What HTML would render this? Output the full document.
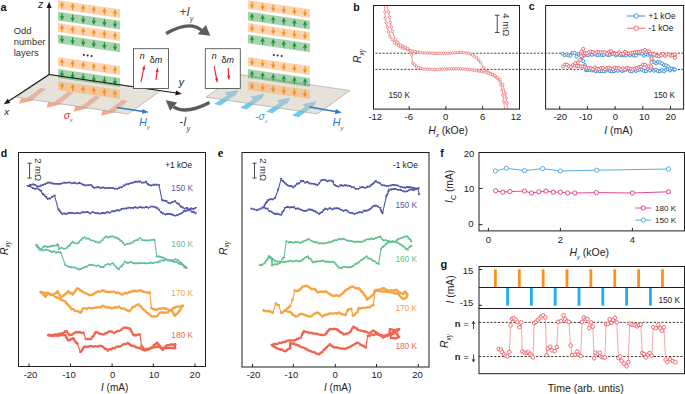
<!DOCTYPE html>
<html><head><meta charset="utf-8"><style>
html,body{margin:0;padding:0;background:#fff;}
svg{display:block;font-family:"Liberation Sans", sans-serif;}
</style></head><body>
<svg width="685" height="394" viewBox="0 0 685 394">
<rect width="685" height="394" fill="#fff"/>
<polygon points="40.4,87.9 46.1,89.1 32.6,99.8 26,98.8" fill="#f7a98f" stroke="none" stroke-width="0" />
<polygon points="20.9,98.2 34.4,100.2 19,103.8" fill="#f7a98f" stroke="none" stroke-width="0" />
<polygon points="67.7,91.85 73.4,93.05 59.9,103.75 53.3,102.75" fill="#f7a98f" stroke="none" stroke-width="0" />
<polygon points="48.2,102.15 61.7,104.15 46.3,107.75" fill="#f7a98f" stroke="none" stroke-width="0" />
<polygon points="95,95.8 100.7,97 87.2,107.7 80.6,106.7" fill="#f7a98f" stroke="none" stroke-width="0" />
<polygon points="75.5,106.1 89,108.1 73.6,111.7" fill="#f7a98f" stroke="none" stroke-width="0" />
<polygon points="122.3,99.75 128,100.95 114.5,111.65 107.9,110.65" fill="#f7a98f" stroke="none" stroke-width="0" />
<polygon points="102.8,110.05 116.3,112.05 100.9,115.65" fill="#f7a98f" stroke="none" stroke-width="0" />
<polygon points="214.1,104 227.3,95.3 224.6,92.8 238.4,89.7 236,95 233,96.6 220.6,105.6" fill="#6ccaf4" stroke="none" stroke-width="0" />
<polygon points="240.05,107.85 253.25,99.15 250.55,96.65 264.35,93.55 261.95,98.85 258.95,100.45 246.55,109.45" fill="#6ccaf4" stroke="none" stroke-width="0" />
<polygon points="266,111.7 279.2,103 276.5,100.5 290.3,97.4 287.9,102.7 284.9,104.3 272.5,113.3" fill="#6ccaf4" stroke="none" stroke-width="0" />
<polygon points="291.95,115.55 305.15,106.85 302.45,104.35 316.25,101.25 313.85,106.55 310.85,108.15 298.45,117.15" fill="#6ccaf4" stroke="none" stroke-width="0" />
<polygon points="49.1,74.5 160.6,90.7 128.2,114.1 16.8,97.3" fill="#cdc5b3" stroke="#9e9a94" stroke-width="0.6" fill-opacity="0.5"/>
<polygon points="238.4,74.3 349.9,90.5 317.5,113.9 206.1,97.1" fill="#cdc5b3" stroke="#9e9a94" stroke-width="0.6" fill-opacity="0.5"/>
<polygon points="58,0.2 120,9.19 120,17.99 58,9" fill="#fbaa5f" stroke="none" stroke-width="0" fill-opacity="0.5"/>
<path d="M62,1.48 L64.3,6.18 L62.6,5.48 L62.6,8.58 L61.4,8.58 L61.4,5.48 L59.7,6.18 Z" fill="#f39019"/>
<path d="M72.6,3.02 L74.9,7.72 L73.2,7.02 L73.2,10.12 L72,10.12 L72,7.02 L70.3,7.72 Z" fill="#f39019"/>
<path d="M83.2,4.55 L85.5,9.25 L83.8,8.55 L83.8,11.65 L82.6,11.65 L82.6,8.55 L80.9,9.25 Z" fill="#f39019"/>
<path d="M93.8,6.09 L96.1,10.79 L94.4,10.09 L94.4,13.19 L93.2,13.19 L93.2,10.09 L91.5,10.79 Z" fill="#f39019"/>
<path d="M104.4,7.63 L106.7,12.33 L105,11.63 L105,14.73 L103.8,14.73 L103.8,11.63 L102.1,12.33 Z" fill="#f39019"/>
<path d="M115,9.16 L117.3,13.86 L115.6,13.16 L115.6,16.26 L114.4,16.26 L114.4,13.16 L112.7,13.86 Z" fill="#f39019"/>
<polygon points="58,11.7 120,20.69 120,29.49 58,20.5" fill="#3c9b46" stroke="none" stroke-width="0" fill-opacity="0.45"/>
<path d="M62,20.38 L64.3,15.68 L62.6,16.38 L62.6,13.28 L61.4,13.28 L61.4,16.38 L59.7,15.68 Z" fill="#18953a"/>
<path d="M72.6,21.92 L74.9,17.22 L73.2,17.92 L73.2,14.82 L72,14.82 L72,17.92 L70.3,17.22 Z" fill="#18953a"/>
<path d="M83.2,23.45 L85.5,18.75 L83.8,19.45 L83.8,16.35 L82.6,16.35 L82.6,19.45 L80.9,18.75 Z" fill="#18953a"/>
<path d="M93.8,24.99 L96.1,20.29 L94.4,20.99 L94.4,17.89 L93.2,17.89 L93.2,20.99 L91.5,20.29 Z" fill="#18953a"/>
<path d="M104.4,26.53 L106.7,21.83 L105,22.53 L105,19.43 L103.8,19.43 L103.8,22.53 L102.1,21.83 Z" fill="#18953a"/>
<path d="M115,28.06 L117.3,23.36 L115.6,24.06 L115.6,20.96 L114.4,20.96 L114.4,24.06 L112.7,23.36 Z" fill="#18953a"/>
<polygon points="58,23.1 120,32.09 120,40.89 58,31.9" fill="#fbaa5f" stroke="none" stroke-width="0" fill-opacity="0.5"/>
<path d="M62,24.38 L64.3,29.08 L62.6,28.38 L62.6,31.48 L61.4,31.48 L61.4,28.38 L59.7,29.08 Z" fill="#f39019"/>
<path d="M72.6,25.92 L74.9,30.62 L73.2,29.92 L73.2,33.02 L72,33.02 L72,29.92 L70.3,30.62 Z" fill="#f39019"/>
<path d="M83.2,27.45 L85.5,32.15 L83.8,31.45 L83.8,34.55 L82.6,34.55 L82.6,31.45 L80.9,32.15 Z" fill="#f39019"/>
<path d="M93.8,28.99 L96.1,33.69 L94.4,32.99 L94.4,36.09 L93.2,36.09 L93.2,32.99 L91.5,33.69 Z" fill="#f39019"/>
<path d="M104.4,30.53 L106.7,35.23 L105,34.53 L105,37.63 L103.8,37.63 L103.8,34.53 L102.1,35.23 Z" fill="#f39019"/>
<path d="M115,32.06 L117.3,36.77 L115.6,36.06 L115.6,39.16 L114.4,39.16 L114.4,36.06 L112.7,36.77 Z" fill="#f39019"/>
<polygon points="58,34.5 120,43.49 120,52.29 58,43.3" fill="#3c9b46" stroke="none" stroke-width="0" fill-opacity="0.45"/>
<path d="M62,43.18 L64.3,38.48 L62.6,39.18 L62.6,36.08 L61.4,36.08 L61.4,39.18 L59.7,38.48 Z" fill="#18953a"/>
<path d="M72.6,44.72 L74.9,40.02 L73.2,40.72 L73.2,37.62 L72,37.62 L72,40.72 L70.3,40.02 Z" fill="#18953a"/>
<path d="M83.2,46.25 L85.5,41.55 L83.8,42.25 L83.8,39.15 L82.6,39.15 L82.6,42.25 L80.9,41.55 Z" fill="#18953a"/>
<path d="M93.8,47.79 L96.1,43.09 L94.4,43.79 L94.4,40.69 L93.2,40.69 L93.2,43.79 L91.5,43.09 Z" fill="#18953a"/>
<path d="M104.4,49.33 L106.7,44.63 L105,45.33 L105,42.23 L103.8,42.23 L103.8,45.33 L102.1,44.63 Z" fill="#18953a"/>
<path d="M115,50.87 L117.3,46.16 L115.6,46.87 L115.6,43.77 L114.4,43.77 L114.4,46.87 L112.7,46.16 Z" fill="#18953a"/>
<polygon points="58,57.1 120,66.09 120,74.89 58,65.9" fill="#fbaa5f" stroke="none" stroke-width="0" fill-opacity="0.5"/>
<path d="M62,58.38 L64.3,63.08 L62.6,62.38 L62.6,65.48 L61.4,65.48 L61.4,62.38 L59.7,63.08 Z" fill="#f39019"/>
<path d="M72.6,59.92 L74.9,64.62 L73.2,63.92 L73.2,67.02 L72,67.02 L72,63.92 L70.3,64.62 Z" fill="#f39019"/>
<path d="M83.2,61.45 L85.5,66.15 L83.8,65.45 L83.8,68.55 L82.6,68.55 L82.6,65.45 L80.9,66.15 Z" fill="#f39019"/>
<path d="M93.8,62.99 L96.1,67.69 L94.4,66.99 L94.4,70.09 L93.2,70.09 L93.2,66.99 L91.5,67.69 Z" fill="#f39019"/>
<path d="M104.4,64.53 L106.7,69.23 L105,68.53 L105,71.63 L103.8,71.63 L103.8,68.53 L102.1,69.23 Z" fill="#f39019"/>
<path d="M115,66.06 L117.3,70.77 L115.6,70.06 L115.6,73.17 L114.4,73.17 L114.4,70.06 L112.7,70.77 Z" fill="#f39019"/>
<polygon points="58,69.1 120,78.09 120,86.89 58,77.9" fill="#3c9b46" stroke="none" stroke-width="0" fill-opacity="0.45"/>
<path d="M62,77.78 L64.3,73.08 L62.6,73.78 L62.6,70.68 L61.4,70.68 L61.4,73.78 L59.7,73.08 Z" fill="#18953a"/>
<path d="M72.6,79.32 L74.9,74.62 L73.2,75.32 L73.2,72.22 L72,72.22 L72,75.32 L70.3,74.62 Z" fill="#18953a"/>
<path d="M83.2,80.85 L85.5,76.15 L83.8,76.85 L83.8,73.75 L82.6,73.75 L82.6,76.85 L80.9,76.15 Z" fill="#18953a"/>
<path d="M93.8,82.39 L96.1,77.69 L94.4,78.39 L94.4,75.29 L93.2,75.29 L93.2,78.39 L91.5,77.69 Z" fill="#18953a"/>
<path d="M104.4,83.93 L106.7,79.23 L105,79.93 L105,76.83 L103.8,76.83 L103.8,79.93 L102.1,79.23 Z" fill="#18953a"/>
<path d="M115,85.47 L117.3,80.77 L115.6,81.47 L115.6,78.36 L114.4,78.36 L114.4,81.47 L112.7,80.77 Z" fill="#18953a"/>
<polygon points="58,81.1 120,90.09 120,98.89 58,89.9" fill="#fbaa5f" stroke="none" stroke-width="0" fill-opacity="0.5"/>
<path d="M62,82.38 L64.3,87.08 L62.6,86.38 L62.6,89.48 L61.4,89.48 L61.4,86.38 L59.7,87.08 Z" fill="#f39019"/>
<path d="M72.6,83.92 L74.9,88.62 L73.2,87.92 L73.2,91.02 L72,91.02 L72,87.92 L70.3,88.62 Z" fill="#f39019"/>
<path d="M83.2,85.45 L85.5,90.15 L83.8,89.45 L83.8,92.55 L82.6,92.55 L82.6,89.45 L80.9,90.15 Z" fill="#f39019"/>
<path d="M93.8,86.99 L96.1,91.69 L94.4,90.99 L94.4,94.09 L93.2,94.09 L93.2,90.99 L91.5,91.69 Z" fill="#f39019"/>
<path d="M104.4,88.53 L106.7,93.23 L105,92.53 L105,95.63 L103.8,95.63 L103.8,92.53 L102.1,93.23 Z" fill="#f39019"/>
<path d="M115,90.06 L117.3,94.77 L115.6,94.06 L115.6,97.17 L114.4,97.17 L114.4,94.06 L112.7,94.77 Z" fill="#f39019"/>
<circle cx="83.8" cy="55" r="1.0" fill="#222"/>
<circle cx="87.6" cy="55.5" r="1.0" fill="#222"/>
<circle cx="91.6" cy="56.1" r="1.0" fill="#222"/>
<polygon points="248,0.2 310,9.19 310,17.99 248,9" fill="#fbaa5f" stroke="none" stroke-width="0" fill-opacity="0.5"/>
<path d="M252,8.88 L254.3,4.18 L252.6,4.88 L252.6,1.78 L251.4,1.78 L251.4,4.88 L249.7,4.18 Z" fill="#f39019"/>
<path d="M262.6,10.42 L264.9,5.72 L263.2,6.42 L263.2,3.32 L262,3.32 L262,6.42 L260.3,5.72 Z" fill="#f39019"/>
<path d="M273.2,11.95 L275.5,7.25 L273.8,7.95 L273.8,4.85 L272.6,4.85 L272.6,7.95 L270.9,7.25 Z" fill="#f39019"/>
<path d="M283.8,13.49 L286.1,8.79 L284.4,9.49 L284.4,6.39 L283.2,6.39 L283.2,9.49 L281.5,8.79 Z" fill="#f39019"/>
<path d="M294.4,15.03 L296.7,10.33 L295,11.03 L295,7.93 L293.8,7.93 L293.8,11.03 L292.1,10.33 Z" fill="#f39019"/>
<path d="M305,16.56 L307.3,11.86 L305.6,12.56 L305.6,9.46 L304.4,9.46 L304.4,12.56 L302.7,11.86 Z" fill="#f39019"/>
<polygon points="248,11.7 310,20.69 310,29.49 248,20.5" fill="#3c9b46" stroke="none" stroke-width="0" fill-opacity="0.45"/>
<path d="M252,12.98 L254.3,17.68 L252.6,16.98 L252.6,20.08 L251.4,20.08 L251.4,16.98 L249.7,17.68 Z" fill="#18953a"/>
<path d="M262.6,14.52 L264.9,19.22 L263.2,18.52 L263.2,21.62 L262,21.62 L262,18.52 L260.3,19.22 Z" fill="#18953a"/>
<path d="M273.2,16.05 L275.5,20.75 L273.8,20.05 L273.8,23.15 L272.6,23.15 L272.6,20.05 L270.9,20.75 Z" fill="#18953a"/>
<path d="M283.8,17.59 L286.1,22.29 L284.4,21.59 L284.4,24.69 L283.2,24.69 L283.2,21.59 L281.5,22.29 Z" fill="#18953a"/>
<path d="M294.4,19.13 L296.7,23.83 L295,23.13 L295,26.23 L293.8,26.23 L293.8,23.13 L292.1,23.83 Z" fill="#18953a"/>
<path d="M305,20.66 L307.3,25.36 L305.6,24.66 L305.6,27.76 L304.4,27.76 L304.4,24.66 L302.7,25.36 Z" fill="#18953a"/>
<polygon points="248,23.1 310,32.09 310,40.89 248,31.9" fill="#fbaa5f" stroke="none" stroke-width="0" fill-opacity="0.5"/>
<path d="M252,31.78 L254.3,27.08 L252.6,27.78 L252.6,24.68 L251.4,24.68 L251.4,27.78 L249.7,27.08 Z" fill="#f39019"/>
<path d="M262.6,33.32 L264.9,28.62 L263.2,29.32 L263.2,26.22 L262,26.22 L262,29.32 L260.3,28.62 Z" fill="#f39019"/>
<path d="M273.2,34.85 L275.5,30.15 L273.8,30.85 L273.8,27.75 L272.6,27.75 L272.6,30.85 L270.9,30.15 Z" fill="#f39019"/>
<path d="M283.8,36.39 L286.1,31.69 L284.4,32.39 L284.4,29.29 L283.2,29.29 L283.2,32.39 L281.5,31.69 Z" fill="#f39019"/>
<path d="M294.4,37.93 L296.7,33.23 L295,33.93 L295,30.83 L293.8,30.83 L293.8,33.93 L292.1,33.23 Z" fill="#f39019"/>
<path d="M305,39.47 L307.3,34.77 L305.6,35.47 L305.6,32.37 L304.4,32.37 L304.4,35.47 L302.7,34.77 Z" fill="#f39019"/>
<polygon points="248,34.5 310,43.49 310,52.29 248,43.3" fill="#3c9b46" stroke="none" stroke-width="0" fill-opacity="0.45"/>
<path d="M252,35.78 L254.3,40.48 L252.6,39.78 L252.6,42.88 L251.4,42.88 L251.4,39.78 L249.7,40.48 Z" fill="#18953a"/>
<path d="M262.6,37.32 L264.9,42.02 L263.2,41.32 L263.2,44.42 L262,44.42 L262,41.32 L260.3,42.02 Z" fill="#18953a"/>
<path d="M273.2,38.85 L275.5,43.55 L273.8,42.85 L273.8,45.95 L272.6,45.95 L272.6,42.85 L270.9,43.55 Z" fill="#18953a"/>
<path d="M283.8,40.39 L286.1,45.09 L284.4,44.39 L284.4,47.49 L283.2,47.49 L283.2,44.39 L281.5,45.09 Z" fill="#18953a"/>
<path d="M294.4,41.93 L296.7,46.63 L295,45.93 L295,49.03 L293.8,49.03 L293.8,45.93 L292.1,46.63 Z" fill="#18953a"/>
<path d="M305,43.46 L307.3,48.16 L305.6,47.46 L305.6,50.56 L304.4,50.56 L304.4,47.46 L302.7,48.16 Z" fill="#18953a"/>
<polygon points="248,57.1 310,66.09 310,74.89 248,65.9" fill="#fbaa5f" stroke="none" stroke-width="0" fill-opacity="0.5"/>
<path d="M252,65.78 L254.3,61.08 L252.6,61.78 L252.6,58.68 L251.4,58.68 L251.4,61.78 L249.7,61.08 Z" fill="#f39019"/>
<path d="M262.6,67.32 L264.9,62.62 L263.2,63.32 L263.2,60.22 L262,60.22 L262,63.32 L260.3,62.62 Z" fill="#f39019"/>
<path d="M273.2,68.85 L275.5,64.15 L273.8,64.85 L273.8,61.75 L272.6,61.75 L272.6,64.85 L270.9,64.15 Z" fill="#f39019"/>
<path d="M283.8,70.39 L286.1,65.69 L284.4,66.39 L284.4,63.29 L283.2,63.29 L283.2,66.39 L281.5,65.69 Z" fill="#f39019"/>
<path d="M294.4,71.93 L296.7,67.23 L295,67.93 L295,64.83 L293.8,64.83 L293.8,67.93 L292.1,67.23 Z" fill="#f39019"/>
<path d="M305,73.47 L307.3,68.77 L305.6,69.47 L305.6,66.36 L304.4,66.36 L304.4,69.47 L302.7,68.77 Z" fill="#f39019"/>
<polygon points="248,69.1 310,78.09 310,86.89 248,77.9" fill="#3c9b46" stroke="none" stroke-width="0" fill-opacity="0.45"/>
<path d="M252,70.38 L254.3,75.08 L252.6,74.38 L252.6,77.48 L251.4,77.48 L251.4,74.38 L249.7,75.08 Z" fill="#18953a"/>
<path d="M262.6,71.92 L264.9,76.62 L263.2,75.92 L263.2,79.02 L262,79.02 L262,75.92 L260.3,76.62 Z" fill="#18953a"/>
<path d="M273.2,73.45 L275.5,78.15 L273.8,77.45 L273.8,80.55 L272.6,80.55 L272.6,77.45 L270.9,78.15 Z" fill="#18953a"/>
<path d="M283.8,74.99 L286.1,79.69 L284.4,78.99 L284.4,82.09 L283.2,82.09 L283.2,78.99 L281.5,79.69 Z" fill="#18953a"/>
<path d="M294.4,76.53 L296.7,81.23 L295,80.53 L295,83.63 L293.8,83.63 L293.8,80.53 L292.1,81.23 Z" fill="#18953a"/>
<path d="M305,78.06 L307.3,82.77 L305.6,82.06 L305.6,85.17 L304.4,85.17 L304.4,82.06 L302.7,82.77 Z" fill="#18953a"/>
<polygon points="248,81.1 310,90.09 310,98.89 248,89.9" fill="#fbaa5f" stroke="none" stroke-width="0" fill-opacity="0.5"/>
<path d="M252,89.78 L254.3,85.08 L252.6,85.78 L252.6,82.68 L251.4,82.68 L251.4,85.78 L249.7,85.08 Z" fill="#f39019"/>
<path d="M262.6,91.32 L264.9,86.62 L263.2,87.32 L263.2,84.22 L262,84.22 L262,87.32 L260.3,86.62 Z" fill="#f39019"/>
<path d="M273.2,92.85 L275.5,88.15 L273.8,88.85 L273.8,85.75 L272.6,85.75 L272.6,88.85 L270.9,88.15 Z" fill="#f39019"/>
<path d="M283.8,94.39 L286.1,89.69 L284.4,90.39 L284.4,87.29 L283.2,87.29 L283.2,90.39 L281.5,89.69 Z" fill="#f39019"/>
<path d="M294.4,95.93 L296.7,91.23 L295,91.93 L295,88.83 L293.8,88.83 L293.8,91.93 L292.1,91.23 Z" fill="#f39019"/>
<path d="M305,97.47 L307.3,92.77 L305.6,93.47 L305.6,90.36 L304.4,90.36 L304.4,93.47 L302.7,92.77 Z" fill="#f39019"/>
<circle cx="273.8" cy="55" r="1.0" fill="#222"/>
<circle cx="277.6" cy="55.5" r="1.0" fill="#222"/>
<circle cx="281.6" cy="56.1" r="1.0" fill="#222"/>
<line x1="49.1" y1="74.5" x2="49.1" y2="5.52" stroke="#1a1a1a" stroke-width="1.2" />
<polygon points="49.1,1.8 51.6,8 46.6,8" fill="#1a1a1a" stroke="none" stroke-width="0" />
<line x1="49.1" y1="74.5" x2="6.91" y2="102.26" stroke="#1a1a1a" stroke-width="1.2" />
<polygon points="3.8,104.3 7.61,98.8 10.35,102.98" fill="#1a1a1a" stroke="none" stroke-width="0" />
<line x1="49.1" y1="74.5" x2="178.12" y2="93.26" stroke="#1a1a1a" stroke-width="1.1" />
<polygon points="181.8,93.8 175.3,95.38 176.02,90.43" fill="#1a1a1a" stroke="none" stroke-width="0" />
<line x1="116.8" y1="107.6" x2="144.94" y2="111.73" stroke="#2a7ac6" stroke-width="1.5" />
<polygon points="148.8,112.3 142.01,113.83 142.73,108.88" fill="#2a7ac6" stroke="none" stroke-width="0" />
<line x1="309.5" y1="107" x2="337.96" y2="111.93" stroke="#2a7ac6" stroke-width="1.5" />
<polygon points="341.8,112.6 334.97,113.95 335.82,109.03" fill="#2a7ac6" stroke="none" stroke-width="0" />
<rect x="133.5" y="48.7" width="35" height="39.8" fill="#fff" stroke="#555" stroke-width="0.9"/>
<text x="142.3" y="58.7" font-size="8.8" text-anchor="middle" fill="#222" font-style="italic">n</text>
<text x="149.8" y="62.7" font-size="9" fill="#222">δ<tspan font-style="italic">m</tspan></text>
<line x1="141" y1="81.9" x2="143.95" y2="67.64" stroke="#e8192c" stroke-width="1.1" />
<polygon points="144.5,65 145.06,69.71 142.12,69.1" fill="#e8192c" stroke="none" stroke-width="0" />
<line x1="155.9" y1="80" x2="157.31" y2="70.27" stroke="#e8192c" stroke-width="1.1" />
<polygon points="157.7,67.6 158.54,72.27 155.57,71.84" fill="#e8192c" stroke="none" stroke-width="0" />
<rect x="205.3" y="48.7" width="35" height="39.8" fill="#fff" stroke="#555" stroke-width="0.9"/>
<text x="214.1" y="58.7" font-size="8.8" text-anchor="middle" fill="#222" font-style="italic">n</text>
<text x="221.6" y="62.7" font-size="9" fill="#222">δ<tspan font-style="italic">m</tspan></text>
<line x1="214.2" y1="66.3" x2="216.81" y2="80.35" stroke="#e8192c" stroke-width="1.1" />
<polygon points="217.3,83 215,78.85 217.95,78.3" fill="#e8192c" stroke="none" stroke-width="0" />
<line x1="228.1" y1="68" x2="228.8" y2="77.51" stroke="#e8192c" stroke-width="1.1" />
<polygon points="229,80.2 227.17,75.82 230.16,75.6" fill="#e8192c" stroke="none" stroke-width="0" />
<path d="M166.1,33.5 Q189.8,20 201.5,30.2" fill="none" stroke="#5c5c5c" stroke-width="3.3"/>
<polygon points="197.6,34.2 205.9,24.9 210.3,35.8" fill="#5c5c5c" stroke="none" stroke-width="0" />
<path d="M209.5,102.5 Q186.2,114.9 173.5,106.8" fill="none" stroke="#5c5c5c" stroke-width="3.3"/>
<polygon points="165.8,100.2 170,110.8 177.2,102.4" fill="#5c5c5c" stroke="none" stroke-width="0" />
<text x="0.6" y="10.6" font-size="11" font-weight="bold" fill="#111">a</text>
<text x="40.6" y="7.8" font-size="10.5" text-anchor="middle" fill="#222" font-style="italic">z</text>
<text x="6.6" y="115.4" font-size="9.8" text-anchor="middle" fill="#222" font-style="italic">x</text>
<text x="181.3" y="86.4" font-size="10.5" text-anchor="middle" fill="#222" font-style="italic">y</text>
<text x="13.7" y="33.6" font-size="9.4" text-anchor="start" fill="#333" >Odd</text>
<text x="13.7" y="45" font-size="9.4" text-anchor="start" fill="#333" >number</text>
<text x="13.7" y="56.4" font-size="9.4" text-anchor="start" fill="#333" >layers</text>
<text x="63.7" y="119.2" font-size="10.5" fill="#e8283c" font-style="italic">σ<tspan font-size="5.6" dy="3.2">x</tspan></text>
<text x="255.0" y="119.6" font-size="10.5" fill="#28a8e0" font-style="italic">-σ<tspan font-size="5.6" dy="3.2">x</tspan></text>
<text x="138.9" y="125.8" font-size="11" fill="#2a7ac6" font-style="italic">H<tspan font-size="6" dy="3.4">y</tspan></text>
<text x="332.6" y="126.2" font-size="11" fill="#2a7ac6" font-style="italic">H<tspan font-size="6" dy="3.4">y</tspan></text>
<text x="179.4" y="15.9" font-size="12" fill="#4a4a4a">+<tspan font-style="italic">I</tspan><tspan font-size="7.5" dy="4.6" font-style="italic">y</tspan></text>
<text x="179.2" y="126.3" font-size="12" fill="#4a4a4a">-<tspan font-style="italic">I</tspan><tspan font-size="7.5" dy="4.6" font-style="italic">y</tspan></text>
<line x1="375.4" y1="53.2" x2="683" y2="53.2" stroke="#333" stroke-width="0.9" stroke-dasharray="2.1,1.5"/>
<line x1="375.4" y1="69.4" x2="683" y2="69.4" stroke="#333" stroke-width="0.9" stroke-dasharray="2.1,1.5"/>
<text x="353.3" y="10.7" font-size="10.5" font-weight="bold" fill="#111">b</text>
<polyline points="384.6,5.3 385.2,18.3 387.3,27.4 389.9,36.5 394.4,42.6 402.5,48.1 412.6,51.2 422.8,52.8 435,53.4 450,53.2 460.3,52.2 466,52.8 470.5,54 476.5,57.4 480.6,62.5 483.7,67.6 486.7,71.6 492.8,74.7 497.9,78.7 500.9,84.8 502.9,95 504.6,109" fill="none" stroke="#ef5f61" stroke-width="0.7" stroke-linejoin="round" />
<circle cx="384.9" cy="11.8" r="1.25" fill="#fff" stroke="#ef5f61" stroke-width="0.65"/>
<circle cx="385.2" cy="18.3" r="1.25" fill="#fff" stroke="#ef5f61" stroke-width="0.65"/>
<circle cx="386.25" cy="22.85" r="1.25" fill="#fff" stroke="#ef5f61" stroke-width="0.65"/>
<circle cx="387.3" cy="27.4" r="1.25" fill="#fff" stroke="#ef5f61" stroke-width="0.65"/>
<circle cx="388.6" cy="31.95" r="1.25" fill="#fff" stroke="#ef5f61" stroke-width="0.65"/>
<circle cx="389.9" cy="36.5" r="1.25" fill="#fff" stroke="#ef5f61" stroke-width="0.65"/>
<circle cx="392.15" cy="39.55" r="1.25" fill="#fff" stroke="#ef5f61" stroke-width="0.65"/>
<circle cx="394.4" cy="42.6" r="1.25" fill="#fff" stroke="#ef5f61" stroke-width="0.65"/>
<circle cx="396.42" cy="43.98" r="1.25" fill="#fff" stroke="#ef5f61" stroke-width="0.65"/>
<circle cx="398.45" cy="45.35" r="1.25" fill="#fff" stroke="#ef5f61" stroke-width="0.65"/>
<circle cx="400.48" cy="46.73" r="1.25" fill="#fff" stroke="#ef5f61" stroke-width="0.65"/>
<circle cx="402.5" cy="48.1" r="1.25" fill="#fff" stroke="#ef5f61" stroke-width="0.65"/>
<circle cx="405.02" cy="48.88" r="1.25" fill="#fff" stroke="#ef5f61" stroke-width="0.65"/>
<circle cx="407.55" cy="49.65" r="1.25" fill="#fff" stroke="#ef5f61" stroke-width="0.65"/>
<circle cx="410.08" cy="50.43" r="1.25" fill="#fff" stroke="#ef5f61" stroke-width="0.65"/>
<circle cx="412.6" cy="51.2" r="1.25" fill="#fff" stroke="#ef5f61" stroke-width="0.65"/>
<circle cx="415.15" cy="51.6" r="1.25" fill="#fff" stroke="#ef5f61" stroke-width="0.65"/>
<circle cx="417.7" cy="52" r="1.25" fill="#fff" stroke="#ef5f61" stroke-width="0.65"/>
<circle cx="420.25" cy="52.4" r="1.25" fill="#fff" stroke="#ef5f61" stroke-width="0.65"/>
<circle cx="422.8" cy="52.8" r="1.25" fill="#fff" stroke="#ef5f61" stroke-width="0.65"/>
<circle cx="425.24" cy="52.92" r="1.25" fill="#fff" stroke="#ef5f61" stroke-width="0.65"/>
<circle cx="427.68" cy="53.04" r="1.25" fill="#fff" stroke="#ef5f61" stroke-width="0.65"/>
<circle cx="430.12" cy="53.16" r="1.25" fill="#fff" stroke="#ef5f61" stroke-width="0.65"/>
<circle cx="432.56" cy="53.28" r="1.25" fill="#fff" stroke="#ef5f61" stroke-width="0.65"/>
<circle cx="435" cy="53.4" r="1.25" fill="#fff" stroke="#ef5f61" stroke-width="0.65"/>
<circle cx="437.14" cy="53.37" r="1.25" fill="#fff" stroke="#ef5f61" stroke-width="0.65"/>
<circle cx="439.29" cy="53.34" r="1.25" fill="#fff" stroke="#ef5f61" stroke-width="0.65"/>
<circle cx="441.43" cy="53.31" r="1.25" fill="#fff" stroke="#ef5f61" stroke-width="0.65"/>
<circle cx="443.57" cy="53.29" r="1.25" fill="#fff" stroke="#ef5f61" stroke-width="0.65"/>
<circle cx="445.71" cy="53.26" r="1.25" fill="#fff" stroke="#ef5f61" stroke-width="0.65"/>
<circle cx="447.86" cy="53.23" r="1.25" fill="#fff" stroke="#ef5f61" stroke-width="0.65"/>
<circle cx="450" cy="53.2" r="1.25" fill="#fff" stroke="#ef5f61" stroke-width="0.65"/>
<circle cx="452.57" cy="52.95" r="1.25" fill="#fff" stroke="#ef5f61" stroke-width="0.65"/>
<circle cx="455.15" cy="52.7" r="1.25" fill="#fff" stroke="#ef5f61" stroke-width="0.65"/>
<circle cx="457.73" cy="52.45" r="1.25" fill="#fff" stroke="#ef5f61" stroke-width="0.65"/>
<circle cx="460.3" cy="52.2" r="1.25" fill="#fff" stroke="#ef5f61" stroke-width="0.65"/>
<circle cx="463.15" cy="52.5" r="1.25" fill="#fff" stroke="#ef5f61" stroke-width="0.65"/>
<circle cx="466" cy="52.8" r="1.25" fill="#fff" stroke="#ef5f61" stroke-width="0.65"/>
<circle cx="468.25" cy="53.4" r="1.25" fill="#fff" stroke="#ef5f61" stroke-width="0.65"/>
<circle cx="470.5" cy="54" r="1.25" fill="#fff" stroke="#ef5f61" stroke-width="0.65"/>
<circle cx="472.5" cy="55.13" r="1.25" fill="#fff" stroke="#ef5f61" stroke-width="0.65"/>
<circle cx="474.5" cy="56.27" r="1.25" fill="#fff" stroke="#ef5f61" stroke-width="0.65"/>
<circle cx="476.5" cy="57.4" r="1.25" fill="#fff" stroke="#ef5f61" stroke-width="0.65"/>
<circle cx="478.55" cy="59.95" r="1.25" fill="#fff" stroke="#ef5f61" stroke-width="0.65"/>
<circle cx="480.6" cy="62.5" r="1.25" fill="#fff" stroke="#ef5f61" stroke-width="0.65"/>
<circle cx="483.7" cy="67.6" r="1.25" fill="#fff" stroke="#ef5f61" stroke-width="0.65"/>
<circle cx="486.7" cy="71.6" r="1.25" fill="#fff" stroke="#ef5f61" stroke-width="0.65"/>
<circle cx="488.73" cy="72.63" r="1.25" fill="#fff" stroke="#ef5f61" stroke-width="0.65"/>
<circle cx="490.77" cy="73.67" r="1.25" fill="#fff" stroke="#ef5f61" stroke-width="0.65"/>
<circle cx="492.8" cy="74.7" r="1.25" fill="#fff" stroke="#ef5f61" stroke-width="0.65"/>
<circle cx="495.35" cy="76.7" r="1.25" fill="#fff" stroke="#ef5f61" stroke-width="0.65"/>
<circle cx="497.9" cy="78.7" r="1.25" fill="#fff" stroke="#ef5f61" stroke-width="0.65"/>
<circle cx="500.9" cy="84.8" r="1.25" fill="#fff" stroke="#ef5f61" stroke-width="0.65"/>
<circle cx="501.9" cy="89.9" r="1.25" fill="#fff" stroke="#ef5f61" stroke-width="0.65"/>
<circle cx="502.9" cy="95" r="1.25" fill="#fff" stroke="#ef5f61" stroke-width="0.65"/>
<circle cx="503.75" cy="102" r="1.25" fill="#fff" stroke="#ef5f61" stroke-width="0.65"/>
<polyline points="386.8,5.3 388.7,12.2 390.3,22.3 392.3,31.5 395.4,39.6 400.5,45.1 407.6,48.3 410.6,50.8 411.6,54.8 412.6,62.9 416.7,67 422.8,69 435,69.5 456.2,68.6 470,69.5 476.5,70.6 486.7,72.6 494.8,75.7 499.9,79.7 502.9,84.8 505.4,93 507,103.1 507.4,109" fill="none" stroke="#ef5f61" stroke-width="0.7" stroke-linejoin="round" />
<circle cx="388.7" cy="12.2" r="1.25" fill="#fff" stroke="#ef5f61" stroke-width="0.65"/>
<circle cx="389.5" cy="17.25" r="1.25" fill="#fff" stroke="#ef5f61" stroke-width="0.65"/>
<circle cx="390.3" cy="22.3" r="1.25" fill="#fff" stroke="#ef5f61" stroke-width="0.65"/>
<circle cx="391.3" cy="26.9" r="1.25" fill="#fff" stroke="#ef5f61" stroke-width="0.65"/>
<circle cx="392.3" cy="31.5" r="1.25" fill="#fff" stroke="#ef5f61" stroke-width="0.65"/>
<circle cx="395.4" cy="39.6" r="1.25" fill="#fff" stroke="#ef5f61" stroke-width="0.65"/>
<circle cx="397.95" cy="42.35" r="1.25" fill="#fff" stroke="#ef5f61" stroke-width="0.65"/>
<circle cx="400.5" cy="45.1" r="1.25" fill="#fff" stroke="#ef5f61" stroke-width="0.65"/>
<circle cx="402.87" cy="46.17" r="1.25" fill="#fff" stroke="#ef5f61" stroke-width="0.65"/>
<circle cx="405.23" cy="47.23" r="1.25" fill="#fff" stroke="#ef5f61" stroke-width="0.65"/>
<circle cx="407.6" cy="48.3" r="1.25" fill="#fff" stroke="#ef5f61" stroke-width="0.65"/>
<circle cx="410.6" cy="50.8" r="1.25" fill="#fff" stroke="#ef5f61" stroke-width="0.65"/>
<circle cx="411.6" cy="54.8" r="1.25" fill="#fff" stroke="#ef5f61" stroke-width="0.65"/>
<circle cx="412.6" cy="62.9" r="1.25" fill="#fff" stroke="#ef5f61" stroke-width="0.65"/>
<circle cx="414.65" cy="64.95" r="1.25" fill="#fff" stroke="#ef5f61" stroke-width="0.65"/>
<circle cx="416.7" cy="67" r="1.25" fill="#fff" stroke="#ef5f61" stroke-width="0.65"/>
<circle cx="418.73" cy="67.67" r="1.25" fill="#fff" stroke="#ef5f61" stroke-width="0.65"/>
<circle cx="420.77" cy="68.33" r="1.25" fill="#fff" stroke="#ef5f61" stroke-width="0.65"/>
<circle cx="422.8" cy="69" r="1.25" fill="#fff" stroke="#ef5f61" stroke-width="0.65"/>
<circle cx="425.24" cy="69.1" r="1.25" fill="#fff" stroke="#ef5f61" stroke-width="0.65"/>
<circle cx="427.68" cy="69.2" r="1.25" fill="#fff" stroke="#ef5f61" stroke-width="0.65"/>
<circle cx="430.12" cy="69.3" r="1.25" fill="#fff" stroke="#ef5f61" stroke-width="0.65"/>
<circle cx="432.56" cy="69.4" r="1.25" fill="#fff" stroke="#ef5f61" stroke-width="0.65"/>
<circle cx="435" cy="69.5" r="1.25" fill="#fff" stroke="#ef5f61" stroke-width="0.65"/>
<circle cx="437.36" cy="69.4" r="1.25" fill="#fff" stroke="#ef5f61" stroke-width="0.65"/>
<circle cx="439.71" cy="69.3" r="1.25" fill="#fff" stroke="#ef5f61" stroke-width="0.65"/>
<circle cx="442.07" cy="69.2" r="1.25" fill="#fff" stroke="#ef5f61" stroke-width="0.65"/>
<circle cx="444.42" cy="69.1" r="1.25" fill="#fff" stroke="#ef5f61" stroke-width="0.65"/>
<circle cx="446.78" cy="69" r="1.25" fill="#fff" stroke="#ef5f61" stroke-width="0.65"/>
<circle cx="449.13" cy="68.9" r="1.25" fill="#fff" stroke="#ef5f61" stroke-width="0.65"/>
<circle cx="451.49" cy="68.8" r="1.25" fill="#fff" stroke="#ef5f61" stroke-width="0.65"/>
<circle cx="453.84" cy="68.7" r="1.25" fill="#fff" stroke="#ef5f61" stroke-width="0.65"/>
<circle cx="456.2" cy="68.6" r="1.25" fill="#fff" stroke="#ef5f61" stroke-width="0.65"/>
<circle cx="458.5" cy="68.75" r="1.25" fill="#fff" stroke="#ef5f61" stroke-width="0.65"/>
<circle cx="460.8" cy="68.9" r="1.25" fill="#fff" stroke="#ef5f61" stroke-width="0.65"/>
<circle cx="463.1" cy="69.05" r="1.25" fill="#fff" stroke="#ef5f61" stroke-width="0.65"/>
<circle cx="465.4" cy="69.2" r="1.25" fill="#fff" stroke="#ef5f61" stroke-width="0.65"/>
<circle cx="467.7" cy="69.35" r="1.25" fill="#fff" stroke="#ef5f61" stroke-width="0.65"/>
<circle cx="470" cy="69.5" r="1.25" fill="#fff" stroke="#ef5f61" stroke-width="0.65"/>
<circle cx="472.17" cy="69.87" r="1.25" fill="#fff" stroke="#ef5f61" stroke-width="0.65"/>
<circle cx="474.33" cy="70.23" r="1.25" fill="#fff" stroke="#ef5f61" stroke-width="0.65"/>
<circle cx="476.5" cy="70.6" r="1.25" fill="#fff" stroke="#ef5f61" stroke-width="0.65"/>
<circle cx="479.05" cy="71.1" r="1.25" fill="#fff" stroke="#ef5f61" stroke-width="0.65"/>
<circle cx="481.6" cy="71.6" r="1.25" fill="#fff" stroke="#ef5f61" stroke-width="0.65"/>
<circle cx="484.15" cy="72.1" r="1.25" fill="#fff" stroke="#ef5f61" stroke-width="0.65"/>
<circle cx="486.7" cy="72.6" r="1.25" fill="#fff" stroke="#ef5f61" stroke-width="0.65"/>
<circle cx="488.73" cy="73.38" r="1.25" fill="#fff" stroke="#ef5f61" stroke-width="0.65"/>
<circle cx="490.75" cy="74.15" r="1.25" fill="#fff" stroke="#ef5f61" stroke-width="0.65"/>
<circle cx="492.77" cy="74.92" r="1.25" fill="#fff" stroke="#ef5f61" stroke-width="0.65"/>
<circle cx="494.8" cy="75.7" r="1.25" fill="#fff" stroke="#ef5f61" stroke-width="0.65"/>
<circle cx="497.35" cy="77.7" r="1.25" fill="#fff" stroke="#ef5f61" stroke-width="0.65"/>
<circle cx="499.9" cy="79.7" r="1.25" fill="#fff" stroke="#ef5f61" stroke-width="0.65"/>
<circle cx="502.9" cy="84.8" r="1.25" fill="#fff" stroke="#ef5f61" stroke-width="0.65"/>
<circle cx="505.4" cy="93" r="1.25" fill="#fff" stroke="#ef5f61" stroke-width="0.65"/>
<circle cx="506.2" cy="98.05" r="1.25" fill="#fff" stroke="#ef5f61" stroke-width="0.65"/>
<circle cx="507" cy="103.1" r="1.25" fill="#fff" stroke="#ef5f61" stroke-width="0.65"/>
<rect x="373.5" y="5.5" width="146" height="103.6" fill="none" stroke="#1f1f1f" stroke-width="1.0"/>
<line x1="409.18" y1="109.1" x2="409.18" y2="106.1" stroke="#1f1f1f" stroke-width="1" />
<line x1="445.9" y1="109.1" x2="445.9" y2="106.1" stroke="#1f1f1f" stroke-width="1" />
<line x1="482.62" y1="109.1" x2="482.62" y2="106.1" stroke="#1f1f1f" stroke-width="1" />
<text x="375.3" y="120.1" font-size="9.5" text-anchor="middle" fill="#222" >-12</text>
<text x="408.7" y="120.1" font-size="9.5" text-anchor="middle" fill="#222" >-6</text>
<text x="445.6" y="120.1" font-size="9.5" text-anchor="middle" fill="#222" >0</text>
<text x="482.6" y="120.1" font-size="9.5" text-anchor="middle" fill="#222" >6</text>
<text x="516.1" y="120.1" font-size="9.5" text-anchor="middle" fill="#222" >12</text>
<text x="428.3" y="133.6" font-size="10.5" fill="#222"><tspan font-style="italic">H</tspan><tspan font-size="5.8" dy="3.6" font-style="italic">z</tspan><tspan dy="-3.6"> (kOe)</tspan></text>
<text transform="translate(361.2,63.0) rotate(-90)" font-size="10.5" fill="#222"><tspan font-style="italic">R</tspan><tspan font-size="6.5" dy="2.4" font-style="italic">xy</tspan></text>
<text x="399.2" y="98.1" font-size="8.2" text-anchor="middle" fill="#222" >150 K</text>
<line x1="497.2" y1="15.2" x2="497.2" y2="32.5" stroke="#333" stroke-width="0.9" />
<line x1="494.9" y1="15.2" x2="499.5" y2="15.2" stroke="#333" stroke-width="0.9" />
<line x1="494.9" y1="32.5" x2="499.5" y2="32.5" stroke="#333" stroke-width="0.9" />
<text transform="translate(503.0,24.8) rotate(90)" font-size="9.5" text-anchor="middle" fill="#333">4 mΩ</text>
<text x="528.8" y="10.4" font-size="10.5" font-weight="bold" fill="#111">c</text>
<polyline points="586,70.22 588,69.93 590,69.84 592,70.4 594,70.4 596,71.17 598,70.64 600,71.23 602,71.06 604,71.38 606,70.61 608,69.39 610,71.07 612,71.32 614,71.17 616,70.37 618,70.71 620,69.51 622,71 624,70.38 626,69.68 628,69.15 630,71.05 632,71.38 634,69.21 636,70.92 638,69.99 640,69.36 642,69.71 644,70.85 646,71.09 648,69.11 650,70.47 652,69.11 654,70.72 656,69.79 658,71.11 660,71.35 662,70.21 664,71.4 666,69.74 668,69.18 670,70.44 672,69.08 674,69.47" fill="none" stroke="#3d8ed4" stroke-width="0.7" stroke-linejoin="round" />
<polyline points="562.6,53.79 564.6,55.2 566.6,54.4 568.6,55.48 570.6,55.58 572.6,53 574.6,52.76 576.6,56.55 578.6,53.89 580.6,53.78 584,55.79 586,54.32 588,55.34 590,54.33 592,54.79 594,53.42 596,54.78 598,55.43 600,54.46 602,55.08 604,54.88 606,53.18 608,55.12 610,54.66 612,53.84 614,53.09 616,55.42 618,54.32 620,55.01 622,55.46 624,55 626,55.58 628,54.11 630,55.24 632,54.24 634,55.62 636,55.46 638,53.27 640,53.38 642,53.61 644,55.7 646,54.22 648,54.75 650,53.84" fill="none" stroke="#3d8ed4" stroke-width="0.7" stroke-linejoin="round" />
<polyline points="651.44,57.13 651.79,59.95 654.22,62.28 656.28,63.28 657.93,61.95 660.01,62.67 662.06,63.57 664.07,65.03 666,65.42 668.13,66.49 669.88,68.57 672.01,68.56 673.71,69.4 675.05,69.42" fill="none" stroke="#3d8ed4" stroke-width="0.7" stroke-linejoin="round" />
<polyline points="582.07,57.16 583.24,61.15 584.98,65.22 585.91,69.25" fill="none" stroke="#3d8ed4" stroke-width="0.7" stroke-linejoin="round" />
<polyline points="563,66.42 565,64.56 567,64.66 569,66.26 571,67 573,65.15 575,65.69 577,66.23 579,65.89 581,66.38 583,66.63 585,67.15 587,68.11 589,67.72 591,68.29 593,69.31 595,67.37 597,68.78 599,69.21 601,68.11 603,67.88 605,69.39 607,67.92 609,67.79 611,68.43 613,69.11 615,67.56 617,68.14 619,68.17 621,69.47 623,68.44 625,69.52 627,67.74 629,68.18 631,68.99 633,69.6 635,68.47 637,67.89 639,66.96 641,66.71 643,64.51 645,64.8 647,66.48 649,66.38 651,68.22" fill="none" stroke="#ee6670" stroke-width="0.7" stroke-linejoin="round" />
<polyline points="583,53.46 585,53 587,53.46 589,52.17 591,51.56 593,52.02 595,53.42 597,51.96 599,52.17 601,52.37 603,52.38 605,52.35 607,53.78 609,51.64 611,51.21 613,53.84 615,53.66 617,53.96 619,52.42 621,53.86 623,53.8 625,51.82 627,53.29 629,53.54 631,53.06 633,52.65 635,52.01 637,52.15 639,51.84 641,51.39 643,50.85 645,50 647,51.47 649,51.33 651,53.73 653,53.58 655,55.09 657,55.88 659,56.32 661,55.42 663,53.84 665,55.89 667,54.28 669,54.64 671,55.66 673,55.27 675,54.96" fill="none" stroke="#ee6670" stroke-width="0.7" stroke-linejoin="round" />
<polyline points="583.26,48.83 581.4,51.7 581.02,56.07 580.17,59.82 577.82,62.54 575.19,63.11" fill="none" stroke="#ee6670" stroke-width="0.7" stroke-linejoin="round" />
<polyline points="651.18,66.51 651.48,62.39 651.5,58.65 654.22,54.46" fill="none" stroke="#ee6670" stroke-width="0.7" stroke-linejoin="round" />
<polyline points="675,54.4 675,57.8" fill="none" stroke="#ee6670" stroke-width="0.7" stroke-linejoin="round" />
<circle cx="586" cy="70.22" r="1.55" fill="#fff" stroke="#3d8ed4" stroke-width="0.95"/>
<circle cx="588" cy="69.93" r="1.55" fill="#fff" stroke="#3d8ed4" stroke-width="0.95"/>
<circle cx="590" cy="69.84" r="1.55" fill="#fff" stroke="#3d8ed4" stroke-width="0.95"/>
<circle cx="592" cy="70.4" r="1.55" fill="#fff" stroke="#3d8ed4" stroke-width="0.95"/>
<circle cx="594" cy="70.4" r="1.55" fill="#fff" stroke="#3d8ed4" stroke-width="0.95"/>
<circle cx="596" cy="71.17" r="1.55" fill="#fff" stroke="#3d8ed4" stroke-width="0.95"/>
<circle cx="598" cy="70.64" r="1.55" fill="#fff" stroke="#3d8ed4" stroke-width="0.95"/>
<circle cx="600" cy="71.23" r="1.55" fill="#fff" stroke="#3d8ed4" stroke-width="0.95"/>
<circle cx="602" cy="71.06" r="1.55" fill="#fff" stroke="#3d8ed4" stroke-width="0.95"/>
<circle cx="604" cy="71.38" r="1.55" fill="#fff" stroke="#3d8ed4" stroke-width="0.95"/>
<circle cx="606" cy="70.61" r="1.55" fill="#fff" stroke="#3d8ed4" stroke-width="0.95"/>
<circle cx="608" cy="69.39" r="1.55" fill="#fff" stroke="#3d8ed4" stroke-width="0.95"/>
<circle cx="610" cy="71.07" r="1.55" fill="#fff" stroke="#3d8ed4" stroke-width="0.95"/>
<circle cx="612" cy="71.32" r="1.55" fill="#fff" stroke="#3d8ed4" stroke-width="0.95"/>
<circle cx="614" cy="71.17" r="1.55" fill="#fff" stroke="#3d8ed4" stroke-width="0.95"/>
<circle cx="616" cy="70.37" r="1.55" fill="#fff" stroke="#3d8ed4" stroke-width="0.95"/>
<circle cx="618" cy="70.71" r="1.55" fill="#fff" stroke="#3d8ed4" stroke-width="0.95"/>
<circle cx="620" cy="69.51" r="1.55" fill="#fff" stroke="#3d8ed4" stroke-width="0.95"/>
<circle cx="622" cy="71" r="1.55" fill="#fff" stroke="#3d8ed4" stroke-width="0.95"/>
<circle cx="624" cy="70.38" r="1.55" fill="#fff" stroke="#3d8ed4" stroke-width="0.95"/>
<circle cx="626" cy="69.68" r="1.55" fill="#fff" stroke="#3d8ed4" stroke-width="0.95"/>
<circle cx="628" cy="69.15" r="1.55" fill="#fff" stroke="#3d8ed4" stroke-width="0.95"/>
<circle cx="630" cy="71.05" r="1.55" fill="#fff" stroke="#3d8ed4" stroke-width="0.95"/>
<circle cx="632" cy="71.38" r="1.55" fill="#fff" stroke="#3d8ed4" stroke-width="0.95"/>
<circle cx="634" cy="69.21" r="1.55" fill="#fff" stroke="#3d8ed4" stroke-width="0.95"/>
<circle cx="636" cy="70.92" r="1.55" fill="#fff" stroke="#3d8ed4" stroke-width="0.95"/>
<circle cx="638" cy="69.99" r="1.55" fill="#fff" stroke="#3d8ed4" stroke-width="0.95"/>
<circle cx="640" cy="69.36" r="1.55" fill="#fff" stroke="#3d8ed4" stroke-width="0.95"/>
<circle cx="642" cy="69.71" r="1.55" fill="#fff" stroke="#3d8ed4" stroke-width="0.95"/>
<circle cx="644" cy="70.85" r="1.55" fill="#fff" stroke="#3d8ed4" stroke-width="0.95"/>
<circle cx="646" cy="71.09" r="1.55" fill="#fff" stroke="#3d8ed4" stroke-width="0.95"/>
<circle cx="648" cy="69.11" r="1.55" fill="#fff" stroke="#3d8ed4" stroke-width="0.95"/>
<circle cx="650" cy="70.47" r="1.55" fill="#fff" stroke="#3d8ed4" stroke-width="0.95"/>
<circle cx="652" cy="69.11" r="1.55" fill="#fff" stroke="#3d8ed4" stroke-width="0.95"/>
<circle cx="654" cy="70.72" r="1.55" fill="#fff" stroke="#3d8ed4" stroke-width="0.95"/>
<circle cx="656" cy="69.79" r="1.55" fill="#fff" stroke="#3d8ed4" stroke-width="0.95"/>
<circle cx="658" cy="71.11" r="1.55" fill="#fff" stroke="#3d8ed4" stroke-width="0.95"/>
<circle cx="660" cy="71.35" r="1.55" fill="#fff" stroke="#3d8ed4" stroke-width="0.95"/>
<circle cx="662" cy="70.21" r="1.55" fill="#fff" stroke="#3d8ed4" stroke-width="0.95"/>
<circle cx="664" cy="71.4" r="1.55" fill="#fff" stroke="#3d8ed4" stroke-width="0.95"/>
<circle cx="666" cy="69.74" r="1.55" fill="#fff" stroke="#3d8ed4" stroke-width="0.95"/>
<circle cx="668" cy="69.18" r="1.55" fill="#fff" stroke="#3d8ed4" stroke-width="0.95"/>
<circle cx="670" cy="70.44" r="1.55" fill="#fff" stroke="#3d8ed4" stroke-width="0.95"/>
<circle cx="672" cy="69.08" r="1.55" fill="#fff" stroke="#3d8ed4" stroke-width="0.95"/>
<circle cx="674" cy="69.47" r="1.55" fill="#fff" stroke="#3d8ed4" stroke-width="0.95"/>
<circle cx="562.6" cy="53.79" r="1.55" fill="#fff" stroke="#3d8ed4" stroke-width="0.95"/>
<circle cx="564.6" cy="55.2" r="1.55" fill="#fff" stroke="#3d8ed4" stroke-width="0.95"/>
<circle cx="566.6" cy="54.4" r="1.55" fill="#fff" stroke="#3d8ed4" stroke-width="0.95"/>
<circle cx="568.6" cy="55.48" r="1.55" fill="#fff" stroke="#3d8ed4" stroke-width="0.95"/>
<circle cx="570.6" cy="55.58" r="1.55" fill="#fff" stroke="#3d8ed4" stroke-width="0.95"/>
<circle cx="572.6" cy="53" r="1.55" fill="#fff" stroke="#3d8ed4" stroke-width="0.95"/>
<circle cx="574.6" cy="52.76" r="1.55" fill="#fff" stroke="#3d8ed4" stroke-width="0.95"/>
<circle cx="576.6" cy="56.55" r="1.55" fill="#fff" stroke="#3d8ed4" stroke-width="0.95"/>
<circle cx="578.6" cy="53.89" r="1.55" fill="#fff" stroke="#3d8ed4" stroke-width="0.95"/>
<circle cx="580.6" cy="53.78" r="1.55" fill="#fff" stroke="#3d8ed4" stroke-width="0.95"/>
<circle cx="584" cy="55.79" r="1.55" fill="#fff" stroke="#3d8ed4" stroke-width="0.95"/>
<circle cx="586" cy="54.32" r="1.55" fill="#fff" stroke="#3d8ed4" stroke-width="0.95"/>
<circle cx="588" cy="55.34" r="1.55" fill="#fff" stroke="#3d8ed4" stroke-width="0.95"/>
<circle cx="590" cy="54.33" r="1.55" fill="#fff" stroke="#3d8ed4" stroke-width="0.95"/>
<circle cx="592" cy="54.79" r="1.55" fill="#fff" stroke="#3d8ed4" stroke-width="0.95"/>
<circle cx="594" cy="53.42" r="1.55" fill="#fff" stroke="#3d8ed4" stroke-width="0.95"/>
<circle cx="596" cy="54.78" r="1.55" fill="#fff" stroke="#3d8ed4" stroke-width="0.95"/>
<circle cx="598" cy="55.43" r="1.55" fill="#fff" stroke="#3d8ed4" stroke-width="0.95"/>
<circle cx="600" cy="54.46" r="1.55" fill="#fff" stroke="#3d8ed4" stroke-width="0.95"/>
<circle cx="602" cy="55.08" r="1.55" fill="#fff" stroke="#3d8ed4" stroke-width="0.95"/>
<circle cx="604" cy="54.88" r="1.55" fill="#fff" stroke="#3d8ed4" stroke-width="0.95"/>
<circle cx="606" cy="53.18" r="1.55" fill="#fff" stroke="#3d8ed4" stroke-width="0.95"/>
<circle cx="608" cy="55.12" r="1.55" fill="#fff" stroke="#3d8ed4" stroke-width="0.95"/>
<circle cx="610" cy="54.66" r="1.55" fill="#fff" stroke="#3d8ed4" stroke-width="0.95"/>
<circle cx="612" cy="53.84" r="1.55" fill="#fff" stroke="#3d8ed4" stroke-width="0.95"/>
<circle cx="614" cy="53.09" r="1.55" fill="#fff" stroke="#3d8ed4" stroke-width="0.95"/>
<circle cx="616" cy="55.42" r="1.55" fill="#fff" stroke="#3d8ed4" stroke-width="0.95"/>
<circle cx="618" cy="54.32" r="1.55" fill="#fff" stroke="#3d8ed4" stroke-width="0.95"/>
<circle cx="620" cy="55.01" r="1.55" fill="#fff" stroke="#3d8ed4" stroke-width="0.95"/>
<circle cx="622" cy="55.46" r="1.55" fill="#fff" stroke="#3d8ed4" stroke-width="0.95"/>
<circle cx="624" cy="55" r="1.55" fill="#fff" stroke="#3d8ed4" stroke-width="0.95"/>
<circle cx="626" cy="55.58" r="1.55" fill="#fff" stroke="#3d8ed4" stroke-width="0.95"/>
<circle cx="628" cy="54.11" r="1.55" fill="#fff" stroke="#3d8ed4" stroke-width="0.95"/>
<circle cx="630" cy="55.24" r="1.55" fill="#fff" stroke="#3d8ed4" stroke-width="0.95"/>
<circle cx="632" cy="54.24" r="1.55" fill="#fff" stroke="#3d8ed4" stroke-width="0.95"/>
<circle cx="634" cy="55.62" r="1.55" fill="#fff" stroke="#3d8ed4" stroke-width="0.95"/>
<circle cx="636" cy="55.46" r="1.55" fill="#fff" stroke="#3d8ed4" stroke-width="0.95"/>
<circle cx="638" cy="53.27" r="1.55" fill="#fff" stroke="#3d8ed4" stroke-width="0.95"/>
<circle cx="640" cy="53.38" r="1.55" fill="#fff" stroke="#3d8ed4" stroke-width="0.95"/>
<circle cx="642" cy="53.61" r="1.55" fill="#fff" stroke="#3d8ed4" stroke-width="0.95"/>
<circle cx="644" cy="55.7" r="1.55" fill="#fff" stroke="#3d8ed4" stroke-width="0.95"/>
<circle cx="646" cy="54.22" r="1.55" fill="#fff" stroke="#3d8ed4" stroke-width="0.95"/>
<circle cx="648" cy="54.75" r="1.55" fill="#fff" stroke="#3d8ed4" stroke-width="0.95"/>
<circle cx="650" cy="53.84" r="1.55" fill="#fff" stroke="#3d8ed4" stroke-width="0.95"/>
<circle cx="651.44" cy="57.13" r="1.55" fill="#fff" stroke="#3d8ed4" stroke-width="0.95"/>
<circle cx="651.79" cy="59.95" r="1.55" fill="#fff" stroke="#3d8ed4" stroke-width="0.95"/>
<circle cx="654.22" cy="62.28" r="1.55" fill="#fff" stroke="#3d8ed4" stroke-width="0.95"/>
<circle cx="656.28" cy="63.28" r="1.55" fill="#fff" stroke="#3d8ed4" stroke-width="0.95"/>
<circle cx="657.93" cy="61.95" r="1.55" fill="#fff" stroke="#3d8ed4" stroke-width="0.95"/>
<circle cx="660.01" cy="62.67" r="1.55" fill="#fff" stroke="#3d8ed4" stroke-width="0.95"/>
<circle cx="662.06" cy="63.57" r="1.55" fill="#fff" stroke="#3d8ed4" stroke-width="0.95"/>
<circle cx="664.07" cy="65.03" r="1.55" fill="#fff" stroke="#3d8ed4" stroke-width="0.95"/>
<circle cx="666" cy="65.42" r="1.55" fill="#fff" stroke="#3d8ed4" stroke-width="0.95"/>
<circle cx="668.13" cy="66.49" r="1.55" fill="#fff" stroke="#3d8ed4" stroke-width="0.95"/>
<circle cx="669.88" cy="68.57" r="1.55" fill="#fff" stroke="#3d8ed4" stroke-width="0.95"/>
<circle cx="672.01" cy="68.56" r="1.55" fill="#fff" stroke="#3d8ed4" stroke-width="0.95"/>
<circle cx="673.71" cy="69.4" r="1.55" fill="#fff" stroke="#3d8ed4" stroke-width="0.95"/>
<circle cx="675.05" cy="69.42" r="1.55" fill="#fff" stroke="#3d8ed4" stroke-width="0.95"/>
<circle cx="582.07" cy="57.16" r="1.55" fill="#fff" stroke="#3d8ed4" stroke-width="0.95"/>
<circle cx="583.24" cy="61.15" r="1.55" fill="#fff" stroke="#3d8ed4" stroke-width="0.95"/>
<circle cx="584.98" cy="65.22" r="1.55" fill="#fff" stroke="#3d8ed4" stroke-width="0.95"/>
<circle cx="585.91" cy="69.25" r="1.55" fill="#fff" stroke="#3d8ed4" stroke-width="0.95"/>
<circle cx="563" cy="66.42" r="1.55" fill="#fff" stroke="#ee6670" stroke-width="0.95"/>
<circle cx="565" cy="64.56" r="1.55" fill="#fff" stroke="#ee6670" stroke-width="0.95"/>
<circle cx="567" cy="64.66" r="1.55" fill="#fff" stroke="#ee6670" stroke-width="0.95"/>
<circle cx="569" cy="66.26" r="1.55" fill="#fff" stroke="#ee6670" stroke-width="0.95"/>
<circle cx="571" cy="67" r="1.55" fill="#fff" stroke="#ee6670" stroke-width="0.95"/>
<circle cx="573" cy="65.15" r="1.55" fill="#fff" stroke="#ee6670" stroke-width="0.95"/>
<circle cx="575" cy="65.69" r="1.55" fill="#fff" stroke="#ee6670" stroke-width="0.95"/>
<circle cx="577" cy="66.23" r="1.55" fill="#fff" stroke="#ee6670" stroke-width="0.95"/>
<circle cx="579" cy="65.89" r="1.55" fill="#fff" stroke="#ee6670" stroke-width="0.95"/>
<circle cx="581" cy="66.38" r="1.55" fill="#fff" stroke="#ee6670" stroke-width="0.95"/>
<circle cx="583" cy="66.63" r="1.55" fill="#fff" stroke="#ee6670" stroke-width="0.95"/>
<circle cx="585" cy="67.15" r="1.55" fill="#fff" stroke="#ee6670" stroke-width="0.95"/>
<circle cx="587" cy="68.11" r="1.55" fill="#fff" stroke="#ee6670" stroke-width="0.95"/>
<circle cx="589" cy="67.72" r="1.55" fill="#fff" stroke="#ee6670" stroke-width="0.95"/>
<circle cx="591" cy="68.29" r="1.55" fill="#fff" stroke="#ee6670" stroke-width="0.95"/>
<circle cx="593" cy="69.31" r="1.55" fill="#fff" stroke="#ee6670" stroke-width="0.95"/>
<circle cx="595" cy="67.37" r="1.55" fill="#fff" stroke="#ee6670" stroke-width="0.95"/>
<circle cx="597" cy="68.78" r="1.55" fill="#fff" stroke="#ee6670" stroke-width="0.95"/>
<circle cx="599" cy="69.21" r="1.55" fill="#fff" stroke="#ee6670" stroke-width="0.95"/>
<circle cx="601" cy="68.11" r="1.55" fill="#fff" stroke="#ee6670" stroke-width="0.95"/>
<circle cx="603" cy="67.88" r="1.55" fill="#fff" stroke="#ee6670" stroke-width="0.95"/>
<circle cx="605" cy="69.39" r="1.55" fill="#fff" stroke="#ee6670" stroke-width="0.95"/>
<circle cx="607" cy="67.92" r="1.55" fill="#fff" stroke="#ee6670" stroke-width="0.95"/>
<circle cx="609" cy="67.79" r="1.55" fill="#fff" stroke="#ee6670" stroke-width="0.95"/>
<circle cx="611" cy="68.43" r="1.55" fill="#fff" stroke="#ee6670" stroke-width="0.95"/>
<circle cx="613" cy="69.11" r="1.55" fill="#fff" stroke="#ee6670" stroke-width="0.95"/>
<circle cx="615" cy="67.56" r="1.55" fill="#fff" stroke="#ee6670" stroke-width="0.95"/>
<circle cx="617" cy="68.14" r="1.55" fill="#fff" stroke="#ee6670" stroke-width="0.95"/>
<circle cx="619" cy="68.17" r="1.55" fill="#fff" stroke="#ee6670" stroke-width="0.95"/>
<circle cx="621" cy="69.47" r="1.55" fill="#fff" stroke="#ee6670" stroke-width="0.95"/>
<circle cx="623" cy="68.44" r="1.55" fill="#fff" stroke="#ee6670" stroke-width="0.95"/>
<circle cx="625" cy="69.52" r="1.55" fill="#fff" stroke="#ee6670" stroke-width="0.95"/>
<circle cx="627" cy="67.74" r="1.55" fill="#fff" stroke="#ee6670" stroke-width="0.95"/>
<circle cx="629" cy="68.18" r="1.55" fill="#fff" stroke="#ee6670" stroke-width="0.95"/>
<circle cx="631" cy="68.99" r="1.55" fill="#fff" stroke="#ee6670" stroke-width="0.95"/>
<circle cx="633" cy="69.6" r="1.55" fill="#fff" stroke="#ee6670" stroke-width="0.95"/>
<circle cx="635" cy="68.47" r="1.55" fill="#fff" stroke="#ee6670" stroke-width="0.95"/>
<circle cx="637" cy="67.89" r="1.55" fill="#fff" stroke="#ee6670" stroke-width="0.95"/>
<circle cx="639" cy="66.96" r="1.55" fill="#fff" stroke="#ee6670" stroke-width="0.95"/>
<circle cx="641" cy="66.71" r="1.55" fill="#fff" stroke="#ee6670" stroke-width="0.95"/>
<circle cx="643" cy="64.51" r="1.55" fill="#fff" stroke="#ee6670" stroke-width="0.95"/>
<circle cx="645" cy="64.8" r="1.55" fill="#fff" stroke="#ee6670" stroke-width="0.95"/>
<circle cx="647" cy="66.48" r="1.55" fill="#fff" stroke="#ee6670" stroke-width="0.95"/>
<circle cx="649" cy="66.38" r="1.55" fill="#fff" stroke="#ee6670" stroke-width="0.95"/>
<circle cx="651" cy="68.22" r="1.55" fill="#fff" stroke="#ee6670" stroke-width="0.95"/>
<circle cx="583" cy="53.46" r="1.55" fill="#fff" stroke="#ee6670" stroke-width="0.95"/>
<circle cx="585" cy="53" r="1.55" fill="#fff" stroke="#ee6670" stroke-width="0.95"/>
<circle cx="587" cy="53.46" r="1.55" fill="#fff" stroke="#ee6670" stroke-width="0.95"/>
<circle cx="589" cy="52.17" r="1.55" fill="#fff" stroke="#ee6670" stroke-width="0.95"/>
<circle cx="591" cy="51.56" r="1.55" fill="#fff" stroke="#ee6670" stroke-width="0.95"/>
<circle cx="593" cy="52.02" r="1.55" fill="#fff" stroke="#ee6670" stroke-width="0.95"/>
<circle cx="595" cy="53.42" r="1.55" fill="#fff" stroke="#ee6670" stroke-width="0.95"/>
<circle cx="597" cy="51.96" r="1.55" fill="#fff" stroke="#ee6670" stroke-width="0.95"/>
<circle cx="599" cy="52.17" r="1.55" fill="#fff" stroke="#ee6670" stroke-width="0.95"/>
<circle cx="601" cy="52.37" r="1.55" fill="#fff" stroke="#ee6670" stroke-width="0.95"/>
<circle cx="603" cy="52.38" r="1.55" fill="#fff" stroke="#ee6670" stroke-width="0.95"/>
<circle cx="605" cy="52.35" r="1.55" fill="#fff" stroke="#ee6670" stroke-width="0.95"/>
<circle cx="607" cy="53.78" r="1.55" fill="#fff" stroke="#ee6670" stroke-width="0.95"/>
<circle cx="609" cy="51.64" r="1.55" fill="#fff" stroke="#ee6670" stroke-width="0.95"/>
<circle cx="611" cy="51.21" r="1.55" fill="#fff" stroke="#ee6670" stroke-width="0.95"/>
<circle cx="613" cy="53.84" r="1.55" fill="#fff" stroke="#ee6670" stroke-width="0.95"/>
<circle cx="615" cy="53.66" r="1.55" fill="#fff" stroke="#ee6670" stroke-width="0.95"/>
<circle cx="617" cy="53.96" r="1.55" fill="#fff" stroke="#ee6670" stroke-width="0.95"/>
<circle cx="619" cy="52.42" r="1.55" fill="#fff" stroke="#ee6670" stroke-width="0.95"/>
<circle cx="621" cy="53.86" r="1.55" fill="#fff" stroke="#ee6670" stroke-width="0.95"/>
<circle cx="623" cy="53.8" r="1.55" fill="#fff" stroke="#ee6670" stroke-width="0.95"/>
<circle cx="625" cy="51.82" r="1.55" fill="#fff" stroke="#ee6670" stroke-width="0.95"/>
<circle cx="627" cy="53.29" r="1.55" fill="#fff" stroke="#ee6670" stroke-width="0.95"/>
<circle cx="629" cy="53.54" r="1.55" fill="#fff" stroke="#ee6670" stroke-width="0.95"/>
<circle cx="631" cy="53.06" r="1.55" fill="#fff" stroke="#ee6670" stroke-width="0.95"/>
<circle cx="633" cy="52.65" r="1.55" fill="#fff" stroke="#ee6670" stroke-width="0.95"/>
<circle cx="635" cy="52.01" r="1.55" fill="#fff" stroke="#ee6670" stroke-width="0.95"/>
<circle cx="637" cy="52.15" r="1.55" fill="#fff" stroke="#ee6670" stroke-width="0.95"/>
<circle cx="639" cy="51.84" r="1.55" fill="#fff" stroke="#ee6670" stroke-width="0.95"/>
<circle cx="641" cy="51.39" r="1.55" fill="#fff" stroke="#ee6670" stroke-width="0.95"/>
<circle cx="643" cy="50.85" r="1.55" fill="#fff" stroke="#ee6670" stroke-width="0.95"/>
<circle cx="645" cy="50" r="1.55" fill="#fff" stroke="#ee6670" stroke-width="0.95"/>
<circle cx="647" cy="51.47" r="1.55" fill="#fff" stroke="#ee6670" stroke-width="0.95"/>
<circle cx="649" cy="51.33" r="1.55" fill="#fff" stroke="#ee6670" stroke-width="0.95"/>
<circle cx="651" cy="53.73" r="1.55" fill="#fff" stroke="#ee6670" stroke-width="0.95"/>
<circle cx="653" cy="53.58" r="1.55" fill="#fff" stroke="#ee6670" stroke-width="0.95"/>
<circle cx="655" cy="55.09" r="1.55" fill="#fff" stroke="#ee6670" stroke-width="0.95"/>
<circle cx="657" cy="55.88" r="1.55" fill="#fff" stroke="#ee6670" stroke-width="0.95"/>
<circle cx="659" cy="56.32" r="1.55" fill="#fff" stroke="#ee6670" stroke-width="0.95"/>
<circle cx="661" cy="55.42" r="1.55" fill="#fff" stroke="#ee6670" stroke-width="0.95"/>
<circle cx="663" cy="53.84" r="1.55" fill="#fff" stroke="#ee6670" stroke-width="0.95"/>
<circle cx="665" cy="55.89" r="1.55" fill="#fff" stroke="#ee6670" stroke-width="0.95"/>
<circle cx="667" cy="54.28" r="1.55" fill="#fff" stroke="#ee6670" stroke-width="0.95"/>
<circle cx="669" cy="54.64" r="1.55" fill="#fff" stroke="#ee6670" stroke-width="0.95"/>
<circle cx="671" cy="55.66" r="1.55" fill="#fff" stroke="#ee6670" stroke-width="0.95"/>
<circle cx="673" cy="55.27" r="1.55" fill="#fff" stroke="#ee6670" stroke-width="0.95"/>
<circle cx="675" cy="54.96" r="1.55" fill="#fff" stroke="#ee6670" stroke-width="0.95"/>
<circle cx="583.26" cy="48.83" r="1.55" fill="#fff" stroke="#ee6670" stroke-width="0.95"/>
<circle cx="581.4" cy="51.7" r="1.55" fill="#fff" stroke="#ee6670" stroke-width="0.95"/>
<circle cx="581.02" cy="56.07" r="1.55" fill="#fff" stroke="#ee6670" stroke-width="0.95"/>
<circle cx="580.17" cy="59.82" r="1.55" fill="#fff" stroke="#ee6670" stroke-width="0.95"/>
<circle cx="577.82" cy="62.54" r="1.55" fill="#fff" stroke="#ee6670" stroke-width="0.95"/>
<circle cx="575.19" cy="63.11" r="1.55" fill="#fff" stroke="#ee6670" stroke-width="0.95"/>
<circle cx="651.18" cy="66.51" r="1.55" fill="#fff" stroke="#ee6670" stroke-width="0.95"/>
<circle cx="651.48" cy="62.39" r="1.55" fill="#fff" stroke="#ee6670" stroke-width="0.95"/>
<circle cx="651.5" cy="58.65" r="1.55" fill="#fff" stroke="#ee6670" stroke-width="0.95"/>
<circle cx="654.22" cy="54.46" r="1.55" fill="#fff" stroke="#ee6670" stroke-width="0.95"/>
<circle cx="675" cy="54.4" r="1.55" fill="#fff" stroke="#ee6670" stroke-width="0.95"/>
<circle cx="675" cy="57.8" r="1.55" fill="#fff" stroke="#ee6670" stroke-width="0.95"/>
<rect x="545.6" y="5.5" width="138" height="103.6" fill="none" stroke="#1f1f1f" stroke-width="1.0"/>
<line x1="559.7" y1="109.1" x2="559.7" y2="106.1" stroke="#1f1f1f" stroke-width="1" />
<text x="560.3" y="120.1" font-size="9.5" text-anchor="middle" fill="#222" >-20</text>
<line x1="587.4" y1="109.1" x2="587.4" y2="106.1" stroke="#1f1f1f" stroke-width="1" />
<text x="585.5" y="120.1" font-size="9.5" text-anchor="middle" fill="#222" >-10</text>
<line x1="615.1" y1="109.1" x2="615.1" y2="106.1" stroke="#1f1f1f" stroke-width="1" />
<text x="615.3" y="120.1" font-size="9.5" text-anchor="middle" fill="#222" >0</text>
<line x1="642.8" y1="109.1" x2="642.8" y2="106.1" stroke="#1f1f1f" stroke-width="1" />
<text x="644.3" y="120.1" font-size="9.5" text-anchor="middle" fill="#222" >10</text>
<line x1="670.5" y1="109.1" x2="670.5" y2="106.1" stroke="#1f1f1f" stroke-width="1" />
<text x="670.7" y="120.1" font-size="9.5" text-anchor="middle" fill="#222" >20</text>
<text x="604.2" y="133.6" font-size="10.5" fill="#222"><tspan font-style="italic">I</tspan> (mA)</text>
<text x="664.4" y="98" font-size="8.2" text-anchor="middle" fill="#222" >150 K</text>
<line x1="627.1" y1="16" x2="645.4" y2="16" stroke="#3d8ed4" stroke-width="1" />
<circle cx="636.2" cy="16" r="2.2" fill="#fff" stroke="#3d8ed4" stroke-width="1"/>
<line x1="627.1" y1="28.2" x2="645.4" y2="28.2" stroke="#ee6670" stroke-width="1" />
<circle cx="636.2" cy="28.2" r="2.2" fill="#fff" stroke="#ee6670" stroke-width="1"/>
<text x="648.4" y="19.2" font-size="8.4" text-anchor="start" fill="#222" >+1 kOe</text>
<text x="648.4" y="31.4" font-size="8.4" text-anchor="start" fill="#222" >-1 kOe</text>
<text x="0.8" y="156.8" font-size="10.5" font-weight="bold" fill="#111">d</text>
<polyline points="27.9,186 30.45,185.17 33,184.5 35.13,185.26 37.27,186.51 39.4,186.5 41.48,185.55 43.55,184.71 45.62,183.94 47.7,182.9 50.13,182.76 52.57,183.65 55,184 57.33,184.04 59.67,184.14 62,183.5 64.48,182.73 66.96,182.95 69.44,182.49 71.92,183.52 74.4,182.9 76.93,183.68 79.47,183.1 82,184.3 84.28,185.3 86.55,185.49 88.82,185.22 91.1,185.2 92.6,186.78 94.1,188 96.28,187.51 98.46,187.34 100.64,188.23 102.82,187.54 105,188.3 107.44,187.94 109.88,188.17 112.32,187.97 114.76,188.8 117.2,189 119.47,187.78 121.75,187.3 124.03,185.66 126.3,184.5 128.57,184.07 130.85,183.2 133.12,182.81 135.4,181.9 137.54,181.83 139.68,181.55 141.82,182.7 143.96,182.69 146.1,181.9 147.6,184.09 149.1,185.2 151.57,185.53 154.05,184.9 156.53,184.77 159,185.2 162.1,200.4 164.18,200.76 166.25,201.11 168.32,202.93 170.4,203.2 172.7,202.04 175,201.2 176.9,203.33 178.8,204.17 180.7,206.66 182.6,207.5 184.73,208.72 186.87,208.03 189,209.5 191.2,208.54 193.4,209.16 195.6,208" fill="none" stroke="#5457a8" stroke-width="1.1" stroke-linejoin="round" />
<path d="M26.4,184.95h3l-1.5,2.4z M28.95,184.12h3l-1.5,2.4z M31.5,183.45h3l-1.5,2.4z M33.63,184.21h3l-1.5,2.4z M35.77,185.46h3l-1.5,2.4z M37.9,185.45h3l-1.5,2.4z M39.98,184.5h3l-1.5,2.4z M42.05,183.66h3l-1.5,2.4z M44.12,182.89h3l-1.5,2.4z M46.2,181.85h3l-1.5,2.4z M48.63,181.71h3l-1.5,2.4z M51.07,182.6h3l-1.5,2.4z M53.5,182.95h3l-1.5,2.4z M55.83,182.99h3l-1.5,2.4z M58.17,183.09h3l-1.5,2.4z M60.5,182.45h3l-1.5,2.4z M62.98,181.68h3l-1.5,2.4z M65.46,181.9h3l-1.5,2.4z M67.94,181.44h3l-1.5,2.4z M70.42,182.47h3l-1.5,2.4z M72.9,181.85h3l-1.5,2.4z M75.43,182.63h3l-1.5,2.4z M77.97,182.05h3l-1.5,2.4z M80.5,183.25h3l-1.5,2.4z M82.78,184.25h3l-1.5,2.4z M85.05,184.44h3l-1.5,2.4z M87.32,184.17h3l-1.5,2.4z M89.6,184.15h3l-1.5,2.4z M91.1,185.73h3l-1.5,2.4z M92.6,186.95h3l-1.5,2.4z M94.78,186.46h3l-1.5,2.4z M96.96,186.29h3l-1.5,2.4z M99.14,187.18h3l-1.5,2.4z M101.32,186.49h3l-1.5,2.4z M103.5,187.25h3l-1.5,2.4z M105.94,186.89h3l-1.5,2.4z M108.38,187.12h3l-1.5,2.4z M110.82,186.92h3l-1.5,2.4z M113.26,187.75h3l-1.5,2.4z M115.7,187.95h3l-1.5,2.4z M117.97,186.73h3l-1.5,2.4z M120.25,186.25h3l-1.5,2.4z M122.53,184.61h3l-1.5,2.4z M124.8,183.45h3l-1.5,2.4z M127.07,183.02h3l-1.5,2.4z M129.35,182.15h3l-1.5,2.4z M131.62,181.76h3l-1.5,2.4z M133.9,180.85h3l-1.5,2.4z M136.04,180.78h3l-1.5,2.4z M138.18,180.5h3l-1.5,2.4z M140.32,181.65h3l-1.5,2.4z M142.46,181.64h3l-1.5,2.4z M144.6,180.85h3l-1.5,2.4z M146.1,183.04h3l-1.5,2.4z M147.6,184.15h3l-1.5,2.4z M150.07,184.48h3l-1.5,2.4z M152.55,183.85h3l-1.5,2.4z M155.03,183.72h3l-1.5,2.4z M157.5,184.15h3l-1.5,2.4z M160.6,199.35h3l-1.5,2.4z M162.68,199.71h3l-1.5,2.4z M164.75,200.06h3l-1.5,2.4z M166.82,201.88h3l-1.5,2.4z M168.9,202.15h3l-1.5,2.4z M171.2,200.99h3l-1.5,2.4z M173.5,200.15h3l-1.5,2.4z M175.4,202.28h3l-1.5,2.4z M177.3,203.12h3l-1.5,2.4z M179.2,205.61h3l-1.5,2.4z M181.1,206.45h3l-1.5,2.4z M183.23,207.67h3l-1.5,2.4z M185.37,206.98h3l-1.5,2.4z M187.5,208.45h3l-1.5,2.4z M189.7,207.49h3l-1.5,2.4z M191.9,208.11h3l-1.5,2.4z M194.1,206.95h3l-1.5,2.4z" fill="#5457a8"/>
<polyline points="195.6,213.4 193.73,212.22 191.87,211.9 190,210 187.85,210.39 185.7,211.1 183.8,211.38 181.9,213.24 180,214 177.5,215.3 175,215.7 172.56,214.87 170.12,214.12 167.68,214.05 165.24,214.6 162.8,213.4 160.9,212.29 159,209.74 157.1,208.42 155.2,207.3 152.99,206.73 150.78,206.72 148.57,207.97 146.36,207.04 144.15,207.71 141.95,207.6 139.74,207.25 137.53,208.18 135.32,207.28 133.11,208.17 130.9,208 128.62,207.77 126.33,208.64 124.05,208.69 121.77,209.17 119.48,210.67 117.2,210.3 114.76,211.41 112.32,211.23 109.88,212.78 107.44,212.32 105,213.4 102.5,213.13 100,213.77 97.5,213.33 95,213 92.5,212.24 90,213.53 87.5,212.17 85,212.5 82.5,212.36 80,213.44 77.5,212.98 75,213.5 72.87,213.27 70.73,213.02 68.6,213.14 66.47,214.03 64.33,213.59 62.2,214.1 60.93,212.76 59.67,210.89 58.4,209.6 54.6,195.9 52.3,196.83 50,198.63 47.7,198.9 46.04,197.05 44.38,195.38 42.72,194.03 41.06,191.11 39.4,189.8 37.1,188.49 34.8,188.93 32.5,188.03 30.2,186.36 27.9,186" fill="none" stroke="#5457a8" stroke-width="1.1" stroke-linejoin="round" />
<path d="M194.1,212.35h3l-1.5,2.4z M192.23,211.17h3l-1.5,2.4z M190.37,210.85h3l-1.5,2.4z M188.5,208.95h3l-1.5,2.4z M186.35,209.34h3l-1.5,2.4z M184.2,210.05h3l-1.5,2.4z M182.3,210.33h3l-1.5,2.4z M180.4,212.19h3l-1.5,2.4z M178.5,212.95h3l-1.5,2.4z M176,214.25h3l-1.5,2.4z M173.5,214.65h3l-1.5,2.4z M171.06,213.82h3l-1.5,2.4z M168.62,213.07h3l-1.5,2.4z M166.18,213h3l-1.5,2.4z M163.74,213.55h3l-1.5,2.4z M161.3,212.35h3l-1.5,2.4z M159.4,211.24h3l-1.5,2.4z M157.5,208.69h3l-1.5,2.4z M155.6,207.37h3l-1.5,2.4z M153.7,206.25h3l-1.5,2.4z M151.49,205.68h3l-1.5,2.4z M149.28,205.67h3l-1.5,2.4z M147.07,206.92h3l-1.5,2.4z M144.86,205.99h3l-1.5,2.4z M142.65,206.66h3l-1.5,2.4z M140.45,206.55h3l-1.5,2.4z M138.24,206.2h3l-1.5,2.4z M136.03,207.13h3l-1.5,2.4z M133.82,206.23h3l-1.5,2.4z M131.61,207.12h3l-1.5,2.4z M129.4,206.95h3l-1.5,2.4z M127.12,206.72h3l-1.5,2.4z M124.83,207.59h3l-1.5,2.4z M122.55,207.64h3l-1.5,2.4z M120.27,208.12h3l-1.5,2.4z M117.98,209.62h3l-1.5,2.4z M115.7,209.25h3l-1.5,2.4z M113.26,210.36h3l-1.5,2.4z M110.82,210.18h3l-1.5,2.4z M108.38,211.73h3l-1.5,2.4z M105.94,211.27h3l-1.5,2.4z M103.5,212.35h3l-1.5,2.4z M101,212.08h3l-1.5,2.4z M98.5,212.72h3l-1.5,2.4z M96,212.28h3l-1.5,2.4z M93.5,211.95h3l-1.5,2.4z M91,211.19h3l-1.5,2.4z M88.5,212.48h3l-1.5,2.4z M86,211.12h3l-1.5,2.4z M83.5,211.45h3l-1.5,2.4z M81,211.31h3l-1.5,2.4z M78.5,212.39h3l-1.5,2.4z M76,211.93h3l-1.5,2.4z M73.5,212.45h3l-1.5,2.4z M71.37,212.22h3l-1.5,2.4z M69.23,211.97h3l-1.5,2.4z M67.1,212.09h3l-1.5,2.4z M64.97,212.98h3l-1.5,2.4z M62.83,212.54h3l-1.5,2.4z M60.7,213.05h3l-1.5,2.4z M59.43,211.71h3l-1.5,2.4z M58.17,209.84h3l-1.5,2.4z M56.9,208.55h3l-1.5,2.4z M53.1,194.85h3l-1.5,2.4z M50.8,195.78h3l-1.5,2.4z M48.5,197.58h3l-1.5,2.4z M46.2,197.85h3l-1.5,2.4z M44.54,196h3l-1.5,2.4z M42.88,194.33h3l-1.5,2.4z M41.22,192.98h3l-1.5,2.4z M39.56,190.06h3l-1.5,2.4z M37.9,188.75h3l-1.5,2.4z M35.6,187.44h3l-1.5,2.4z M33.3,187.88h3l-1.5,2.4z M31,186.98h3l-1.5,2.4z M28.7,185.31h3l-1.5,2.4z M26.4,184.95h3l-1.5,2.4z" fill="#5457a8"/>
<polyline points="36.3,244.8 37.57,245.84 38.83,248.25 40.1,249.4 41.73,248.97 43.37,246.65 45,246 47.22,246.62 49.44,246.41 51.66,245.87 53.88,245.47 56.1,245.5 57.6,244 58.35,245.67 59.1,248.6 61.67,247.6 64.23,248.81 66.8,247.8 68.3,245.86 69.8,245.08 71.3,242.84 72.8,241.7 75.1,243.02 77.4,243.3 79.12,241.93 80.85,239.92 82.58,238.21 84.3,237.2 86.57,238.55 88.83,238.51 91.1,240.2 93.63,240.53 96.17,241.83 98.7,242.5 100.6,241.54 102.5,239.63 104.4,237.57 106.3,236.4 108.47,237.27 110.65,236.33 112.83,236.23 115,237.2 116.85,237.58 118.7,238.7 120.22,240.14 121.75,241.05 123.28,242.76 124.8,244.8 127.33,243.82 129.87,243.38 132.4,242.5 134.3,240.76 136.2,239.98 138.1,239.68 140,237.9 142.3,239.82 144.6,240.2 147.07,240.28 149.55,240.16 152.03,239.81 154.5,239.5 156.8,256.2 159.08,256.37 161.35,256.96 163.62,257.68 165.9,259.2 168.34,260.02 170.78,259.84 173.22,260.42 175.66,259.07 178.1,260 179.76,261.74 181.42,263.01 183.08,264.93 184.74,265.79 186.4,267.6" fill="none" stroke="#63bc9b" stroke-width="1.1" stroke-linejoin="round" />
<path d="M34.8,245.85h3l-1.5,-2.4z M36.07,246.89h3l-1.5,-2.4z M37.33,249.3h3l-1.5,-2.4z M38.6,250.45h3l-1.5,-2.4z M40.23,250.02h3l-1.5,-2.4z M41.87,247.7h3l-1.5,-2.4z M43.5,247.05h3l-1.5,-2.4z M45.72,247.67h3l-1.5,-2.4z M47.94,247.46h3l-1.5,-2.4z M50.16,246.92h3l-1.5,-2.4z M52.38,246.52h3l-1.5,-2.4z M54.6,246.55h3l-1.5,-2.4z M56.1,245.05h3l-1.5,-2.4z M56.85,246.72h3l-1.5,-2.4z M57.6,249.65h3l-1.5,-2.4z M60.17,248.65h3l-1.5,-2.4z M62.73,249.86h3l-1.5,-2.4z M65.3,248.85h3l-1.5,-2.4z M66.8,246.91h3l-1.5,-2.4z M68.3,246.13h3l-1.5,-2.4z M69.8,243.89h3l-1.5,-2.4z M71.3,242.75h3l-1.5,-2.4z M73.6,244.07h3l-1.5,-2.4z M75.9,244.35h3l-1.5,-2.4z M77.62,242.98h3l-1.5,-2.4z M79.35,240.97h3l-1.5,-2.4z M81.08,239.26h3l-1.5,-2.4z M82.8,238.25h3l-1.5,-2.4z M85.07,239.6h3l-1.5,-2.4z M87.33,239.56h3l-1.5,-2.4z M89.6,241.25h3l-1.5,-2.4z M92.13,241.58h3l-1.5,-2.4z M94.67,242.88h3l-1.5,-2.4z M97.2,243.55h3l-1.5,-2.4z M99.1,242.59h3l-1.5,-2.4z M101,240.68h3l-1.5,-2.4z M102.9,238.62h3l-1.5,-2.4z M104.8,237.45h3l-1.5,-2.4z M106.97,238.32h3l-1.5,-2.4z M109.15,237.38h3l-1.5,-2.4z M111.33,237.28h3l-1.5,-2.4z M113.5,238.25h3l-1.5,-2.4z M115.35,238.63h3l-1.5,-2.4z M117.2,239.75h3l-1.5,-2.4z M118.72,241.19h3l-1.5,-2.4z M120.25,242.1h3l-1.5,-2.4z M121.78,243.81h3l-1.5,-2.4z M123.3,245.85h3l-1.5,-2.4z M125.83,244.87h3l-1.5,-2.4z M128.37,244.43h3l-1.5,-2.4z M130.9,243.55h3l-1.5,-2.4z M132.8,241.81h3l-1.5,-2.4z M134.7,241.03h3l-1.5,-2.4z M136.6,240.73h3l-1.5,-2.4z M138.5,238.95h3l-1.5,-2.4z M140.8,240.87h3l-1.5,-2.4z M143.1,241.25h3l-1.5,-2.4z M145.57,241.33h3l-1.5,-2.4z M148.05,241.21h3l-1.5,-2.4z M150.53,240.86h3l-1.5,-2.4z M153,240.55h3l-1.5,-2.4z M155.3,257.25h3l-1.5,-2.4z M157.58,257.42h3l-1.5,-2.4z M159.85,258.01h3l-1.5,-2.4z M162.12,258.73h3l-1.5,-2.4z M164.4,260.25h3l-1.5,-2.4z M166.84,261.07h3l-1.5,-2.4z M169.28,260.89h3l-1.5,-2.4z M171.72,261.47h3l-1.5,-2.4z M174.16,260.12h3l-1.5,-2.4z M176.6,261.05h3l-1.5,-2.4z M178.26,262.79h3l-1.5,-2.4z M179.92,264.06h3l-1.5,-2.4z M181.58,265.98h3l-1.5,-2.4z M183.24,266.84h3l-1.5,-2.4z M184.9,268.65h3l-1.5,-2.4z" fill="#63bc9b"/>
<polyline points="186.4,267.6 184.42,267.18 182.44,264.48 180.46,264.01 178.48,263.1 176.5,261.5 174.38,261.68 172.26,260.96 170.14,260.45 168.02,260.13 165.9,259.2 163.76,260.48 161.62,260.2 159.48,261.36 157.34,262.32 155.2,262.3 153,262.98 150.8,262.35 148.6,263.03 146.4,263.24 144.2,262.86 142,263.03 139.8,262.73 137.6,263.14 135.4,263.1 133.28,262.95 131.16,261.79 129.04,262.36 126.92,262.61 124.8,261.5 123.28,264.01 121.75,265.67 120.22,267.02 118.7,269.1 117.17,267.98 115.65,266.23 114.12,264.5 112.6,263.1 110.07,264.37 107.53,263.9 105,265.3 103.3,266.9 100.86,266.84 98.42,265.23 95.98,265.68 93.54,265.03 91.1,264.6 89.07,264.92 87.03,266.42 85,266.85 82.97,267.78 80.93,269.02 78.9,269.1 76.62,268.16 74.35,267.22 72.08,267.13 69.8,266.9 67.5,266.04 65.2,264.6 60.7,252.4 58.4,251.92 56.1,252.4 54.08,251.27 52.05,251.85 50.02,250.86 48,250 45.37,249.71 42.73,250.23 40.1,249.4 38.83,247.59 37.57,246.6 36.3,244.8" fill="none" stroke="#63bc9b" stroke-width="1.1" stroke-linejoin="round" />
<path d="M184.9,268.65h3l-1.5,-2.4z M182.92,268.23h3l-1.5,-2.4z M180.94,265.53h3l-1.5,-2.4z M178.96,265.06h3l-1.5,-2.4z M176.98,264.15h3l-1.5,-2.4z M175,262.55h3l-1.5,-2.4z M172.88,262.73h3l-1.5,-2.4z M170.76,262.01h3l-1.5,-2.4z M168.64,261.5h3l-1.5,-2.4z M166.52,261.18h3l-1.5,-2.4z M164.4,260.25h3l-1.5,-2.4z M162.26,261.53h3l-1.5,-2.4z M160.12,261.25h3l-1.5,-2.4z M157.98,262.41h3l-1.5,-2.4z M155.84,263.37h3l-1.5,-2.4z M153.7,263.35h3l-1.5,-2.4z M151.5,264.03h3l-1.5,-2.4z M149.3,263.4h3l-1.5,-2.4z M147.1,264.08h3l-1.5,-2.4z M144.9,264.29h3l-1.5,-2.4z M142.7,263.91h3l-1.5,-2.4z M140.5,264.08h3l-1.5,-2.4z M138.3,263.78h3l-1.5,-2.4z M136.1,264.19h3l-1.5,-2.4z M133.9,264.15h3l-1.5,-2.4z M131.78,264h3l-1.5,-2.4z M129.66,262.84h3l-1.5,-2.4z M127.54,263.41h3l-1.5,-2.4z M125.42,263.66h3l-1.5,-2.4z M123.3,262.55h3l-1.5,-2.4z M121.78,265.06h3l-1.5,-2.4z M120.25,266.72h3l-1.5,-2.4z M118.72,268.07h3l-1.5,-2.4z M117.2,270.15h3l-1.5,-2.4z M115.67,269.03h3l-1.5,-2.4z M114.15,267.28h3l-1.5,-2.4z M112.62,265.55h3l-1.5,-2.4z M111.1,264.15h3l-1.5,-2.4z M108.57,265.42h3l-1.5,-2.4z M106.03,264.95h3l-1.5,-2.4z M103.5,266.35h3l-1.5,-2.4z M101.8,267.95h3l-1.5,-2.4z M99.36,267.89h3l-1.5,-2.4z M96.92,266.28h3l-1.5,-2.4z M94.48,266.73h3l-1.5,-2.4z M92.04,266.08h3l-1.5,-2.4z M89.6,265.65h3l-1.5,-2.4z M87.57,265.97h3l-1.5,-2.4z M85.53,267.47h3l-1.5,-2.4z M83.5,267.9h3l-1.5,-2.4z M81.47,268.83h3l-1.5,-2.4z M79.43,270.07h3l-1.5,-2.4z M77.4,270.15h3l-1.5,-2.4z M75.12,269.21h3l-1.5,-2.4z M72.85,268.27h3l-1.5,-2.4z M70.58,268.18h3l-1.5,-2.4z M68.3,267.95h3l-1.5,-2.4z M66,267.09h3l-1.5,-2.4z M63.7,265.65h3l-1.5,-2.4z M59.2,253.45h3l-1.5,-2.4z M56.9,252.97h3l-1.5,-2.4z M54.6,253.45h3l-1.5,-2.4z M52.58,252.32h3l-1.5,-2.4z M50.55,252.9h3l-1.5,-2.4z M48.52,251.91h3l-1.5,-2.4z M46.5,251.05h3l-1.5,-2.4z M43.87,250.76h3l-1.5,-2.4z M41.23,251.28h3l-1.5,-2.4z M38.6,250.45h3l-1.5,-2.4z M37.33,248.64h3l-1.5,-2.4z M36.07,247.65h3l-1.5,-2.4z M34.8,245.85h3l-1.5,-2.4z" fill="#63bc9b"/>
<polyline points="40.9,292.2 42.4,293.37 43.9,295.12 45.4,296.7 46.55,295.14 47.7,292.9 49.47,294.12 51.23,294.85 53,295.2 54.53,293.81 56.07,292.76 57.6,291.4 58.63,293.23 59.67,295.07 60.7,297.5 62.22,296.28 63.74,295.43 65.26,294.22 66.78,292.85 68.3,291.4 69.8,292.93 71.3,293.22 72.8,294.5 73.95,292.61 75.1,291.4 76.25,289.68 77.4,288.4 78.93,289.09 80.47,290.31 82,291.4 83.9,292.49 85.8,293.29 87.7,294.05 89.6,295.2 91.34,294.93 93.09,294.44 94.83,293.22 96.57,292.16 98.31,291.47 100.06,291.75 101.8,290.7 103.7,290.57 105.6,291.68 107.5,291.9 109.4,292.2 111.75,291.84 114.1,291.9 116,292.87 117.9,292.67 119.8,293.45 121.7,294.5 123.54,293.93 125.38,292.94 127.22,293.3 129.06,292.13 130.9,291.9 132.88,291.2 134.86,290.8 136.84,291.14 138.82,290.64 140.8,290.4 142.3,291.29 143.8,291.9 145.83,292.27 147.87,292.64 149.9,292.5 151.4,308.2 153.2,309.2 155,309.4 156.8,309.7 158.8,308.87 160.8,308.67 162.8,308.2 164.7,308.4 166.6,308.76 168.5,309.82 170.4,310.4 171.93,309.64 173.47,308.05 175,307.4 176.9,306.77 178.8,306.48 180.7,306.49 182.6,305.9" fill="none" stroke="#f7a340" stroke-width="1.2" stroke-linejoin="round" />
<g fill="#f7a340"><circle cx="40.9" cy="292.2" r="1.35"/><circle cx="42.4" cy="293.37" r="1.35"/><circle cx="43.9" cy="295.12" r="1.35"/><circle cx="45.4" cy="296.7" r="1.35"/><circle cx="46.55" cy="295.14" r="1.35"/><circle cx="47.7" cy="292.9" r="1.35"/><circle cx="49.47" cy="294.12" r="1.35"/><circle cx="51.23" cy="294.85" r="1.35"/><circle cx="53" cy="295.2" r="1.35"/><circle cx="54.53" cy="293.81" r="1.35"/><circle cx="56.07" cy="292.76" r="1.35"/><circle cx="57.6" cy="291.4" r="1.35"/><circle cx="58.63" cy="293.23" r="1.35"/><circle cx="59.67" cy="295.07" r="1.35"/><circle cx="60.7" cy="297.5" r="1.35"/><circle cx="62.22" cy="296.28" r="1.35"/><circle cx="63.74" cy="295.43" r="1.35"/><circle cx="65.26" cy="294.22" r="1.35"/><circle cx="66.78" cy="292.85" r="1.35"/><circle cx="68.3" cy="291.4" r="1.35"/><circle cx="69.8" cy="292.93" r="1.35"/><circle cx="71.3" cy="293.22" r="1.35"/><circle cx="72.8" cy="294.5" r="1.35"/><circle cx="73.95" cy="292.61" r="1.35"/><circle cx="75.1" cy="291.4" r="1.35"/><circle cx="76.25" cy="289.68" r="1.35"/><circle cx="77.4" cy="288.4" r="1.35"/><circle cx="78.93" cy="289.09" r="1.35"/><circle cx="80.47" cy="290.31" r="1.35"/><circle cx="82" cy="291.4" r="1.35"/><circle cx="83.9" cy="292.49" r="1.35"/><circle cx="85.8" cy="293.29" r="1.35"/><circle cx="87.7" cy="294.05" r="1.35"/><circle cx="89.6" cy="295.2" r="1.35"/><circle cx="91.34" cy="294.93" r="1.35"/><circle cx="93.09" cy="294.44" r="1.35"/><circle cx="94.83" cy="293.22" r="1.35"/><circle cx="96.57" cy="292.16" r="1.35"/><circle cx="98.31" cy="291.47" r="1.35"/><circle cx="100.06" cy="291.75" r="1.35"/><circle cx="101.8" cy="290.7" r="1.35"/><circle cx="103.7" cy="290.57" r="1.35"/><circle cx="105.6" cy="291.68" r="1.35"/><circle cx="107.5" cy="291.9" r="1.35"/><circle cx="109.4" cy="292.2" r="1.35"/><circle cx="111.75" cy="291.84" r="1.35"/><circle cx="114.1" cy="291.9" r="1.35"/><circle cx="116" cy="292.87" r="1.35"/><circle cx="117.9" cy="292.67" r="1.35"/><circle cx="119.8" cy="293.45" r="1.35"/><circle cx="121.7" cy="294.5" r="1.35"/><circle cx="123.54" cy="293.93" r="1.35"/><circle cx="125.38" cy="292.94" r="1.35"/><circle cx="127.22" cy="293.3" r="1.35"/><circle cx="129.06" cy="292.13" r="1.35"/><circle cx="130.9" cy="291.9" r="1.35"/><circle cx="132.88" cy="291.2" r="1.35"/><circle cx="134.86" cy="290.8" r="1.35"/><circle cx="136.84" cy="291.14" r="1.35"/><circle cx="138.82" cy="290.64" r="1.35"/><circle cx="140.8" cy="290.4" r="1.35"/><circle cx="142.3" cy="291.29" r="1.35"/><circle cx="143.8" cy="291.9" r="1.35"/><circle cx="145.83" cy="292.27" r="1.35"/><circle cx="147.87" cy="292.64" r="1.35"/><circle cx="149.9" cy="292.5" r="1.35"/><circle cx="151.4" cy="308.2" r="1.35"/><circle cx="153.2" cy="309.2" r="1.35"/><circle cx="155" cy="309.4" r="1.35"/><circle cx="156.8" cy="309.7" r="1.35"/><circle cx="158.8" cy="308.87" r="1.35"/><circle cx="160.8" cy="308.67" r="1.35"/><circle cx="162.8" cy="308.2" r="1.35"/><circle cx="164.7" cy="308.4" r="1.35"/><circle cx="166.6" cy="308.76" r="1.35"/><circle cx="168.5" cy="309.82" r="1.35"/><circle cx="170.4" cy="310.4" r="1.35"/><circle cx="171.93" cy="309.64" r="1.35"/><circle cx="173.47" cy="308.05" r="1.35"/><circle cx="175" cy="307.4" r="1.35"/><circle cx="176.9" cy="306.77" r="1.35"/><circle cx="178.8" cy="306.48" r="1.35"/><circle cx="180.7" cy="306.49" r="1.35"/><circle cx="182.6" cy="305.9" r="1.35"/></g>
<polyline points="182.6,305.9 181.47,307.62 180.35,309.43 179.22,311.28 178.1,312.7 176.55,314.13 175,315.8 174,314.32 173,312.65 172,310.4 169.97,310.71 167.93,312.41 165.9,312.7 163.87,312.94 161.83,312.29 159.8,312.7 158.3,314.55 156.8,316.5 154.77,316.4 152.73,316.48 150.7,315.8 149.17,314.24 147.65,313.03 146.12,311.94 144.6,310.43 143.07,309.16 141.55,307.21 140.03,305.99 138.5,304.4 136.47,305.08 134.43,306.64 132.4,307.4 130.9,309.65 129.4,311.2 127.62,310.59 125.83,309.91 124.05,308.58 122.27,308.57 120.48,307.9 118.7,306.6 116.8,307.53 114.9,307.44 113,308.12 111.1,308.2 109.15,307.43 107.2,307.5 105.25,306.87 103.3,305.9 101.75,306.48 100.2,307.4 98.26,307.11 96.31,307.67 94.37,307.96 92.42,308.36 90.48,308.22 88.53,307.88 86.59,308.91 84.64,308.25 82.7,308.9 81.55,311.13 80.4,312.7 78.58,311.58 76.76,311 74.94,310.74 73.12,309.26 71.3,308.9 70.08,306.99 68.86,305.88 67.64,304.59 66.42,303.19 65.2,301.3 63.17,300.51 61.13,299.79 59.1,298.3 57.28,297.43 55.46,297.07 53.64,295.26 51.82,294.55 50,294 48.18,293.67 46.36,293.05 44.54,293.17 42.72,292.71 40.9,292.2" fill="none" stroke="#f7a340" stroke-width="1.2" stroke-linejoin="round" />
<g fill="#f7a340"><circle cx="182.6" cy="305.9" r="1.35"/><circle cx="181.47" cy="307.62" r="1.35"/><circle cx="180.35" cy="309.43" r="1.35"/><circle cx="179.22" cy="311.28" r="1.35"/><circle cx="178.1" cy="312.7" r="1.35"/><circle cx="176.55" cy="314.13" r="1.35"/><circle cx="175" cy="315.8" r="1.35"/><circle cx="174" cy="314.32" r="1.35"/><circle cx="173" cy="312.65" r="1.35"/><circle cx="172" cy="310.4" r="1.35"/><circle cx="169.97" cy="310.71" r="1.35"/><circle cx="167.93" cy="312.41" r="1.35"/><circle cx="165.9" cy="312.7" r="1.35"/><circle cx="163.87" cy="312.94" r="1.35"/><circle cx="161.83" cy="312.29" r="1.35"/><circle cx="159.8" cy="312.7" r="1.35"/><circle cx="158.3" cy="314.55" r="1.35"/><circle cx="156.8" cy="316.5" r="1.35"/><circle cx="154.77" cy="316.4" r="1.35"/><circle cx="152.73" cy="316.48" r="1.35"/><circle cx="150.7" cy="315.8" r="1.35"/><circle cx="149.17" cy="314.24" r="1.35"/><circle cx="147.65" cy="313.03" r="1.35"/><circle cx="146.12" cy="311.94" r="1.35"/><circle cx="144.6" cy="310.43" r="1.35"/><circle cx="143.07" cy="309.16" r="1.35"/><circle cx="141.55" cy="307.21" r="1.35"/><circle cx="140.03" cy="305.99" r="1.35"/><circle cx="138.5" cy="304.4" r="1.35"/><circle cx="136.47" cy="305.08" r="1.35"/><circle cx="134.43" cy="306.64" r="1.35"/><circle cx="132.4" cy="307.4" r="1.35"/><circle cx="130.9" cy="309.65" r="1.35"/><circle cx="129.4" cy="311.2" r="1.35"/><circle cx="127.62" cy="310.59" r="1.35"/><circle cx="125.83" cy="309.91" r="1.35"/><circle cx="124.05" cy="308.58" r="1.35"/><circle cx="122.27" cy="308.57" r="1.35"/><circle cx="120.48" cy="307.9" r="1.35"/><circle cx="118.7" cy="306.6" r="1.35"/><circle cx="116.8" cy="307.53" r="1.35"/><circle cx="114.9" cy="307.44" r="1.35"/><circle cx="113" cy="308.12" r="1.35"/><circle cx="111.1" cy="308.2" r="1.35"/><circle cx="109.15" cy="307.43" r="1.35"/><circle cx="107.2" cy="307.5" r="1.35"/><circle cx="105.25" cy="306.87" r="1.35"/><circle cx="103.3" cy="305.9" r="1.35"/><circle cx="101.75" cy="306.48" r="1.35"/><circle cx="100.2" cy="307.4" r="1.35"/><circle cx="98.26" cy="307.11" r="1.35"/><circle cx="96.31" cy="307.67" r="1.35"/><circle cx="94.37" cy="307.96" r="1.35"/><circle cx="92.42" cy="308.36" r="1.35"/><circle cx="90.48" cy="308.22" r="1.35"/><circle cx="88.53" cy="307.88" r="1.35"/><circle cx="86.59" cy="308.91" r="1.35"/><circle cx="84.64" cy="308.25" r="1.35"/><circle cx="82.7" cy="308.9" r="1.35"/><circle cx="81.55" cy="311.13" r="1.35"/><circle cx="80.4" cy="312.7" r="1.35"/><circle cx="78.58" cy="311.58" r="1.35"/><circle cx="76.76" cy="311" r="1.35"/><circle cx="74.94" cy="310.74" r="1.35"/><circle cx="73.12" cy="309.26" r="1.35"/><circle cx="71.3" cy="308.9" r="1.35"/><circle cx="70.08" cy="306.99" r="1.35"/><circle cx="68.86" cy="305.88" r="1.35"/><circle cx="67.64" cy="304.59" r="1.35"/><circle cx="66.42" cy="303.19" r="1.35"/><circle cx="65.2" cy="301.3" r="1.35"/><circle cx="63.17" cy="300.51" r="1.35"/><circle cx="61.13" cy="299.79" r="1.35"/><circle cx="59.1" cy="298.3" r="1.35"/><circle cx="57.28" cy="297.43" r="1.35"/><circle cx="55.46" cy="297.07" r="1.35"/><circle cx="53.64" cy="295.26" r="1.35"/><circle cx="51.82" cy="294.55" r="1.35"/><circle cx="50" cy="294" r="1.35"/><circle cx="48.18" cy="293.67" r="1.35"/><circle cx="46.36" cy="293.05" r="1.35"/><circle cx="44.54" cy="293.17" r="1.35"/><circle cx="42.72" cy="292.71" r="1.35"/><circle cx="40.9" cy="292.2" r="1.35"/></g>
<polyline points="48.5,335.2 50.32,335.09 52.14,335.3 53.96,334.85 55.78,334.43 57.6,334.5 59.44,333.75 61.28,333.64 63.12,333.08 64.96,331.7 66.8,331.4 68.3,333.69 69.8,335.2 71.83,334.72 73.87,333.23 75.9,332.2 77.8,332.46 79.7,332.22 81.6,332.76 83.5,332.9 85.8,339 87.57,339 89.33,339.12 91.1,339 92.25,336.78 93.4,336.12 94.55,333.92 95.7,332.2 97.6,332.67 99.5,333.68 101.4,333.99 103.3,334.5 105.33,333.46 107.37,332.64 109.4,331.4 111.75,331.67 114.1,332.9 115.88,332.06 117.67,331.04 119.45,330.75 121.23,329.83 123.02,328.23 124.8,327.6 127.1,327.97 129.4,328.4 130.53,329.69 131.65,331.73 132.78,333.85 133.9,335.2 135.93,335.41 137.97,334.71 140,334.5 141.5,345.9 143.05,347.6 144.6,349.7 146.63,348.86 148.67,348.83 150.7,348.2 152.22,347.32 153.75,345.09 155.28,344.46 156.8,342.8 158,343.66 159.2,345.22 160.4,346.64 161.6,348.53 162.8,349.7 164.33,347.97 165.87,346.47 167.4,345.1 169.3,345.06 171.2,344.32 173.1,344.83 175,344.4" fill="none" stroke="#f06450" stroke-width="1.2" stroke-linejoin="round" />
<g fill="#f06450"><circle cx="48.5" cy="335.2" r="1.35"/><circle cx="50.32" cy="335.09" r="1.35"/><circle cx="52.14" cy="335.3" r="1.35"/><circle cx="53.96" cy="334.85" r="1.35"/><circle cx="55.78" cy="334.43" r="1.35"/><circle cx="57.6" cy="334.5" r="1.35"/><circle cx="59.44" cy="333.75" r="1.35"/><circle cx="61.28" cy="333.64" r="1.35"/><circle cx="63.12" cy="333.08" r="1.35"/><circle cx="64.96" cy="331.7" r="1.35"/><circle cx="66.8" cy="331.4" r="1.35"/><circle cx="68.3" cy="333.69" r="1.35"/><circle cx="69.8" cy="335.2" r="1.35"/><circle cx="71.83" cy="334.72" r="1.35"/><circle cx="73.87" cy="333.23" r="1.35"/><circle cx="75.9" cy="332.2" r="1.35"/><circle cx="77.8" cy="332.46" r="1.35"/><circle cx="79.7" cy="332.22" r="1.35"/><circle cx="81.6" cy="332.76" r="1.35"/><circle cx="83.5" cy="332.9" r="1.35"/><circle cx="85.8" cy="339" r="1.35"/><circle cx="87.57" cy="339" r="1.35"/><circle cx="89.33" cy="339.12" r="1.35"/><circle cx="91.1" cy="339" r="1.35"/><circle cx="92.25" cy="336.78" r="1.35"/><circle cx="93.4" cy="336.12" r="1.35"/><circle cx="94.55" cy="333.92" r="1.35"/><circle cx="95.7" cy="332.2" r="1.35"/><circle cx="97.6" cy="332.67" r="1.35"/><circle cx="99.5" cy="333.68" r="1.35"/><circle cx="101.4" cy="333.99" r="1.35"/><circle cx="103.3" cy="334.5" r="1.35"/><circle cx="105.33" cy="333.46" r="1.35"/><circle cx="107.37" cy="332.64" r="1.35"/><circle cx="109.4" cy="331.4" r="1.35"/><circle cx="111.75" cy="331.67" r="1.35"/><circle cx="114.1" cy="332.9" r="1.35"/><circle cx="115.88" cy="332.06" r="1.35"/><circle cx="117.67" cy="331.04" r="1.35"/><circle cx="119.45" cy="330.75" r="1.35"/><circle cx="121.23" cy="329.83" r="1.35"/><circle cx="123.02" cy="328.23" r="1.35"/><circle cx="124.8" cy="327.6" r="1.35"/><circle cx="127.1" cy="327.97" r="1.35"/><circle cx="129.4" cy="328.4" r="1.35"/><circle cx="130.53" cy="329.69" r="1.35"/><circle cx="131.65" cy="331.73" r="1.35"/><circle cx="132.78" cy="333.85" r="1.35"/><circle cx="133.9" cy="335.2" r="1.35"/><circle cx="135.93" cy="335.41" r="1.35"/><circle cx="137.97" cy="334.71" r="1.35"/><circle cx="140" cy="334.5" r="1.35"/><circle cx="141.5" cy="345.9" r="1.35"/><circle cx="143.05" cy="347.6" r="1.35"/><circle cx="144.6" cy="349.7" r="1.35"/><circle cx="146.63" cy="348.86" r="1.35"/><circle cx="148.67" cy="348.83" r="1.35"/><circle cx="150.7" cy="348.2" r="1.35"/><circle cx="152.22" cy="347.32" r="1.35"/><circle cx="153.75" cy="345.09" r="1.35"/><circle cx="155.28" cy="344.46" r="1.35"/><circle cx="156.8" cy="342.8" r="1.35"/><circle cx="158" cy="343.66" r="1.35"/><circle cx="159.2" cy="345.22" r="1.35"/><circle cx="160.4" cy="346.64" r="1.35"/><circle cx="161.6" cy="348.53" r="1.35"/><circle cx="162.8" cy="349.7" r="1.35"/><circle cx="164.33" cy="347.97" r="1.35"/><circle cx="165.87" cy="346.47" r="1.35"/><circle cx="167.4" cy="345.1" r="1.35"/><circle cx="169.3" cy="345.06" r="1.35"/><circle cx="171.2" cy="344.32" r="1.35"/><circle cx="173.1" cy="344.83" r="1.35"/><circle cx="175" cy="344.4" r="1.35"/></g>
<polyline points="175,344.4 175,345.89 175,348.2 172.97,348.21 170.93,347.93 168.9,347.87 166.87,348.23 164.83,348.13 162.8,348.2 160.8,347.53 158.8,347.04 156.8,346.6 154.77,347.27 152.73,347.49 150.7,348.17 148.67,349.28 146.63,349.92 144.6,350.4 143.07,349.7 141.53,349.32 140,348.2 138.1,347.75 136.2,347.44 134.3,346.18 132.4,345.9 130.87,345.13 129.33,344.17 127.8,342.8 125.98,344 124.16,344.12 122.34,344.88 120.52,346.31 118.7,346.6 116.67,346.82 114.63,348.21 112.6,348.2 111,349.36 109.4,349.26 107.8,350.4 106.3,349.06 104.8,348.55 103.3,346.99 101.8,346.2 99.7,345.81 97.6,346.67 95.5,346.26 93.4,346.72 91.3,346.04 89.2,346.39 87.1,346.75 85,346.6 83.85,347.42 82.7,348.97 81.55,350.85 80.4,352 77.4,343.6 76.25,342.73 75.1,341.47 73.95,339.2 72.8,338.3 71.3,339.04 69.8,340.05 68.3,340.5 67.27,338.74 66.23,337.17 65.2,335.2 63.3,335.06 61.4,335.13 59.5,335.37 57.6,336 55.78,335.33 53.96,335.74 52.14,335.54 50.32,335.44 48.5,335.2" fill="none" stroke="#f06450" stroke-width="1.2" stroke-linejoin="round" />
<g fill="#f06450"><circle cx="175" cy="344.4" r="1.35"/><circle cx="175" cy="345.89" r="1.35"/><circle cx="175" cy="348.2" r="1.35"/><circle cx="172.97" cy="348.21" r="1.35"/><circle cx="170.93" cy="347.93" r="1.35"/><circle cx="168.9" cy="347.87" r="1.35"/><circle cx="166.87" cy="348.23" r="1.35"/><circle cx="164.83" cy="348.13" r="1.35"/><circle cx="162.8" cy="348.2" r="1.35"/><circle cx="160.8" cy="347.53" r="1.35"/><circle cx="158.8" cy="347.04" r="1.35"/><circle cx="156.8" cy="346.6" r="1.35"/><circle cx="154.77" cy="347.27" r="1.35"/><circle cx="152.73" cy="347.49" r="1.35"/><circle cx="150.7" cy="348.17" r="1.35"/><circle cx="148.67" cy="349.28" r="1.35"/><circle cx="146.63" cy="349.92" r="1.35"/><circle cx="144.6" cy="350.4" r="1.35"/><circle cx="143.07" cy="349.7" r="1.35"/><circle cx="141.53" cy="349.32" r="1.35"/><circle cx="140" cy="348.2" r="1.35"/><circle cx="138.1" cy="347.75" r="1.35"/><circle cx="136.2" cy="347.44" r="1.35"/><circle cx="134.3" cy="346.18" r="1.35"/><circle cx="132.4" cy="345.9" r="1.35"/><circle cx="130.87" cy="345.13" r="1.35"/><circle cx="129.33" cy="344.17" r="1.35"/><circle cx="127.8" cy="342.8" r="1.35"/><circle cx="125.98" cy="344" r="1.35"/><circle cx="124.16" cy="344.12" r="1.35"/><circle cx="122.34" cy="344.88" r="1.35"/><circle cx="120.52" cy="346.31" r="1.35"/><circle cx="118.7" cy="346.6" r="1.35"/><circle cx="116.67" cy="346.82" r="1.35"/><circle cx="114.63" cy="348.21" r="1.35"/><circle cx="112.6" cy="348.2" r="1.35"/><circle cx="111" cy="349.36" r="1.35"/><circle cx="109.4" cy="349.26" r="1.35"/><circle cx="107.8" cy="350.4" r="1.35"/><circle cx="106.3" cy="349.06" r="1.35"/><circle cx="104.8" cy="348.55" r="1.35"/><circle cx="103.3" cy="346.99" r="1.35"/><circle cx="101.8" cy="346.2" r="1.35"/><circle cx="99.7" cy="345.81" r="1.35"/><circle cx="97.6" cy="346.67" r="1.35"/><circle cx="95.5" cy="346.26" r="1.35"/><circle cx="93.4" cy="346.72" r="1.35"/><circle cx="91.3" cy="346.04" r="1.35"/><circle cx="89.2" cy="346.39" r="1.35"/><circle cx="87.1" cy="346.75" r="1.35"/><circle cx="85" cy="346.6" r="1.35"/><circle cx="83.85" cy="347.42" r="1.35"/><circle cx="82.7" cy="348.97" r="1.35"/><circle cx="81.55" cy="350.85" r="1.35"/><circle cx="80.4" cy="352" r="1.35"/><circle cx="77.4" cy="343.6" r="1.35"/><circle cx="76.25" cy="342.73" r="1.35"/><circle cx="75.1" cy="341.47" r="1.35"/><circle cx="73.95" cy="339.2" r="1.35"/><circle cx="72.8" cy="338.3" r="1.35"/><circle cx="71.3" cy="339.04" r="1.35"/><circle cx="69.8" cy="340.05" r="1.35"/><circle cx="68.3" cy="340.5" r="1.35"/><circle cx="67.27" cy="338.74" r="1.35"/><circle cx="66.23" cy="337.17" r="1.35"/><circle cx="65.2" cy="335.2" r="1.35"/><circle cx="63.3" cy="335.06" r="1.35"/><circle cx="61.4" cy="335.13" r="1.35"/><circle cx="59.5" cy="335.37" r="1.35"/><circle cx="57.6" cy="336" r="1.35"/><circle cx="55.78" cy="335.33" r="1.35"/><circle cx="53.96" cy="335.74" r="1.35"/><circle cx="52.14" cy="335.54" r="1.35"/><circle cx="50.32" cy="335.44" r="1.35"/><circle cx="48.5" cy="335.2" r="1.35"/></g>
<rect x="18.5" y="152.5" width="187" height="214" fill="none" stroke="#1f1f1f" stroke-width="1.0"/>
<line x1="29" y1="366.5" x2="29" y2="363.5" stroke="#1f1f1f" stroke-width="1" />
<text x="30.5" y="378.2" font-size="9.5" text-anchor="middle" fill="#222" >-20</text>
<line x1="70.5" y1="366.5" x2="70.5" y2="363.5" stroke="#1f1f1f" stroke-width="1" />
<text x="69" y="378.2" font-size="9.5" text-anchor="middle" fill="#222" >-10</text>
<line x1="112.1" y1="366.5" x2="112.1" y2="363.5" stroke="#1f1f1f" stroke-width="1" />
<text x="112.6" y="378.2" font-size="9.5" text-anchor="middle" fill="#222" >0</text>
<line x1="153.3" y1="366.5" x2="153.3" y2="363.5" stroke="#1f1f1f" stroke-width="1" />
<text x="154" y="378.2" font-size="9.5" text-anchor="middle" fill="#222" >10</text>
<line x1="195" y1="366.5" x2="195" y2="363.5" stroke="#1f1f1f" stroke-width="1" />
<text x="194.9" y="378.2" font-size="9.5" text-anchor="middle" fill="#222" >20</text>
<text x="101.0" y="390.6" font-size="10" fill="#222"><tspan font-style="italic">I</tspan> (mA)</text>
<text transform="translate(7.6,255.0) rotate(-90)" font-size="10.5" fill="#222"><tspan font-style="italic">R</tspan><tspan font-size="6.5" dy="2.4" font-style="italic">xy</tspan></text>
<text x="165.2" y="168.2" font-size="8.3" text-anchor="start" fill="#222" >+1 kOe</text>
<text x="171.3" y="191" font-size="8.3" text-anchor="start" fill="#5457a8" >150 K</text>
<text x="171.3" y="247" font-size="8.3" text-anchor="start" fill="#63bc9b" >160 K</text>
<text x="171.3" y="296.4" font-size="8.3" text-anchor="start" fill="#f7a340" >170 K</text>
<text x="171.3" y="338.4" font-size="8.3" text-anchor="start" fill="#f06450" >180 K</text>
<line x1="29.6" y1="163.2" x2="29.6" y2="178.1" stroke="#333" stroke-width="0.9" />
<line x1="27.5" y1="163.2" x2="31.7" y2="163.2" stroke="#333" stroke-width="0.9" />
<line x1="27.5" y1="178.1" x2="31.7" y2="178.1" stroke="#333" stroke-width="0.9" />
<text transform="translate(35,169.6) rotate(90)" font-size="9.5" text-anchor="middle" fill="#333">2 mΩ</text>
<text x="217.8" y="157.2" font-size="12.5" font-weight="bold" font-family="Liberation Serif, serif" fill="#111">e</text>
<polyline points="251.4,208.8 254.05,209.51 256.7,210.3 259,209.55 261.3,208.57 263.6,207.3 264.75,205 265.9,203.07 267.05,201.92 268.2,200.4 270.47,199.31 272.73,199.43 275,198.2 278.1,189.8 281.1,179.1 282.62,180.93 284.15,182.31 285.68,183.77 287.2,185.2 289.23,186.22 291.27,186.17 293.3,187.5 295.2,185.88 297.1,183.91 299,183.57 300.9,181.4 303.02,181.15 305.14,182.83 307.26,182.1 309.38,183.54 311.5,183.7 313.53,183.94 315.57,184.55 317.6,185.2 319.15,183.5 320.7,180.7 322.82,179.93 324.94,180 327.06,181.36 329.18,180.71 331.3,180.7 332.9,181.81 334.5,185.01 336.1,186 338.38,186.71 340.67,185.38 342.95,185.88 345.23,185.42 347.52,185.7 349.8,186 351.83,187.19 353.87,187.46 355.9,189 358.18,188.93 360.47,187.52 362.75,187.32 365.03,187.97 367.32,186.92 369.6,186.7 371.12,185.25 372.65,184.2 374.18,182.69 375.7,181.4 377.73,182.48 379.77,183.18 381.8,185.2 384.07,185.56 386.33,185.95 388.6,185.96 390.87,185.46 393.13,184.97 395.4,185.2 397.97,185.75 400.53,187.04 403.1,187.5 405.27,187.89 407.44,187.11 409.61,187.42 411.79,187.74 413.96,188.09 416.13,188.68 418.3,188.3 419,194.4" fill="none" stroke="#5457a8" stroke-width="1.1" stroke-linejoin="round" />
<path d="M249.9,207.75h3l-1.5,2.4z M252.55,208.46h3l-1.5,2.4z M255.2,209.25h3l-1.5,2.4z M257.5,208.5h3l-1.5,2.4z M259.8,207.52h3l-1.5,2.4z M262.1,206.25h3l-1.5,2.4z M263.25,203.95h3l-1.5,2.4z M264.4,202.02h3l-1.5,2.4z M265.55,200.87h3l-1.5,2.4z M266.7,199.35h3l-1.5,2.4z M268.97,198.26h3l-1.5,2.4z M271.23,198.38h3l-1.5,2.4z M273.5,197.15h3l-1.5,2.4z M276.6,188.75h3l-1.5,2.4z M279.6,178.05h3l-1.5,2.4z M281.12,179.88h3l-1.5,2.4z M282.65,181.26h3l-1.5,2.4z M284.18,182.72h3l-1.5,2.4z M285.7,184.15h3l-1.5,2.4z M287.73,185.17h3l-1.5,2.4z M289.77,185.12h3l-1.5,2.4z M291.8,186.45h3l-1.5,2.4z M293.7,184.83h3l-1.5,2.4z M295.6,182.86h3l-1.5,2.4z M297.5,182.52h3l-1.5,2.4z M299.4,180.35h3l-1.5,2.4z M301.52,180.1h3l-1.5,2.4z M303.64,181.78h3l-1.5,2.4z M305.76,181.05h3l-1.5,2.4z M307.88,182.49h3l-1.5,2.4z M310,182.65h3l-1.5,2.4z M312.03,182.89h3l-1.5,2.4z M314.07,183.5h3l-1.5,2.4z M316.1,184.15h3l-1.5,2.4z M317.65,182.45h3l-1.5,2.4z M319.2,179.65h3l-1.5,2.4z M321.32,178.88h3l-1.5,2.4z M323.44,178.95h3l-1.5,2.4z M325.56,180.31h3l-1.5,2.4z M327.68,179.66h3l-1.5,2.4z M329.8,179.65h3l-1.5,2.4z M331.4,180.76h3l-1.5,2.4z M333,183.96h3l-1.5,2.4z M334.6,184.95h3l-1.5,2.4z M336.88,185.66h3l-1.5,2.4z M339.17,184.33h3l-1.5,2.4z M341.45,184.83h3l-1.5,2.4z M343.73,184.37h3l-1.5,2.4z M346.02,184.65h3l-1.5,2.4z M348.3,184.95h3l-1.5,2.4z M350.33,186.14h3l-1.5,2.4z M352.37,186.41h3l-1.5,2.4z M354.4,187.95h3l-1.5,2.4z M356.68,187.88h3l-1.5,2.4z M358.97,186.47h3l-1.5,2.4z M361.25,186.27h3l-1.5,2.4z M363.53,186.92h3l-1.5,2.4z M365.82,185.87h3l-1.5,2.4z M368.1,185.65h3l-1.5,2.4z M369.62,184.2h3l-1.5,2.4z M371.15,183.15h3l-1.5,2.4z M372.68,181.64h3l-1.5,2.4z M374.2,180.35h3l-1.5,2.4z M376.23,181.43h3l-1.5,2.4z M378.27,182.13h3l-1.5,2.4z M380.3,184.15h3l-1.5,2.4z M382.57,184.51h3l-1.5,2.4z M384.83,184.9h3l-1.5,2.4z M387.1,184.91h3l-1.5,2.4z M389.37,184.41h3l-1.5,2.4z M391.63,183.92h3l-1.5,2.4z M393.9,184.15h3l-1.5,2.4z M396.47,184.7h3l-1.5,2.4z M399.03,185.99h3l-1.5,2.4z M401.6,186.45h3l-1.5,2.4z M403.77,186.84h3l-1.5,2.4z M405.94,186.06h3l-1.5,2.4z M408.11,186.37h3l-1.5,2.4z M410.29,186.69h3l-1.5,2.4z M412.46,187.04h3l-1.5,2.4z M414.63,187.63h3l-1.5,2.4z M416.8,187.25h3l-1.5,2.4z M417.5,193.35h3l-1.5,2.4z" fill="#5457a8"/>
<polyline points="263.6,207.3 265.5,208.43 267.4,208.81 269.3,211.22 271.2,211.72 273.1,213 275,214.1 277.03,213.92 279.07,214.52 281.1,214.9 282.37,212.42 283.63,210.74 284.9,208 287.2,207.13 289.5,207.61 291.8,207.3 293.82,207.42 295.83,208.88 297.85,208.46 299.87,209.48 301.88,210.22 303.9,211.1 306.43,210.92 308.97,209.58 311.5,209.9 313.4,210.88 315.3,211.53 317.2,212.7 319.1,214.1 320.62,212.74 322.15,212.18 323.68,210.09 325.2,208.8 327.52,209.53 329.83,208.27 332.15,209.48 334.47,208.58 336.78,208.3 339.1,208.8 341.29,209.95 343.47,210.97 345.66,210.28 347.84,211.46 350.03,213.02 352.21,213.09 354.4,214.1 356.93,213.19 359.47,212.31 362,212.6 363.96,210.89 365.91,210.85 367.87,210.46 369.83,209.51 371.79,207.75 373.74,206.01 375.7,205.8 377.95,206.62 380.2,208 380.97,210.26 381.73,212.13 382.5,213.4 386.3,196.6 387.33,194.56 388.37,191.63 389.4,189.8 391.4,189.58 393.4,189.23 395.4,189 397.97,189.97 400.53,190.15 403.1,191.3 405.27,191.69 407.44,191.27 409.61,189.77 411.79,189.65 413.96,190.25 416.13,188.97 418.3,189" fill="none" stroke="#5457a8" stroke-width="1.1" stroke-linejoin="round" />
<path d="M262.1,206.25h3l-1.5,2.4z M264,207.38h3l-1.5,2.4z M265.9,207.76h3l-1.5,2.4z M267.8,210.17h3l-1.5,2.4z M269.7,210.67h3l-1.5,2.4z M271.6,211.95h3l-1.5,2.4z M273.5,213.05h3l-1.5,2.4z M275.53,212.87h3l-1.5,2.4z M277.57,213.47h3l-1.5,2.4z M279.6,213.85h3l-1.5,2.4z M280.87,211.37h3l-1.5,2.4z M282.13,209.69h3l-1.5,2.4z M283.4,206.95h3l-1.5,2.4z M285.7,206.08h3l-1.5,2.4z M288,206.56h3l-1.5,2.4z M290.3,206.25h3l-1.5,2.4z M292.32,206.37h3l-1.5,2.4z M294.33,207.83h3l-1.5,2.4z M296.35,207.41h3l-1.5,2.4z M298.37,208.43h3l-1.5,2.4z M300.38,209.17h3l-1.5,2.4z M302.4,210.05h3l-1.5,2.4z M304.93,209.87h3l-1.5,2.4z M307.47,208.53h3l-1.5,2.4z M310,208.85h3l-1.5,2.4z M311.9,209.83h3l-1.5,2.4z M313.8,210.48h3l-1.5,2.4z M315.7,211.65h3l-1.5,2.4z M317.6,213.05h3l-1.5,2.4z M319.12,211.69h3l-1.5,2.4z M320.65,211.13h3l-1.5,2.4z M322.18,209.04h3l-1.5,2.4z M323.7,207.75h3l-1.5,2.4z M326.02,208.48h3l-1.5,2.4z M328.33,207.22h3l-1.5,2.4z M330.65,208.43h3l-1.5,2.4z M332.97,207.53h3l-1.5,2.4z M335.28,207.25h3l-1.5,2.4z M337.6,207.75h3l-1.5,2.4z M339.79,208.9h3l-1.5,2.4z M341.97,209.92h3l-1.5,2.4z M344.16,209.23h3l-1.5,2.4z M346.34,210.41h3l-1.5,2.4z M348.53,211.97h3l-1.5,2.4z M350.71,212.04h3l-1.5,2.4z M352.9,213.05h3l-1.5,2.4z M355.43,212.14h3l-1.5,2.4z M357.97,211.26h3l-1.5,2.4z M360.5,211.55h3l-1.5,2.4z M362.46,209.84h3l-1.5,2.4z M364.41,209.8h3l-1.5,2.4z M366.37,209.41h3l-1.5,2.4z M368.33,208.46h3l-1.5,2.4z M370.29,206.7h3l-1.5,2.4z M372.24,204.96h3l-1.5,2.4z M374.2,204.75h3l-1.5,2.4z M376.45,205.57h3l-1.5,2.4z M378.7,206.95h3l-1.5,2.4z M379.47,209.21h3l-1.5,2.4z M380.23,211.08h3l-1.5,2.4z M381,212.35h3l-1.5,2.4z M384.8,195.55h3l-1.5,2.4z M385.83,193.51h3l-1.5,2.4z M386.87,190.58h3l-1.5,2.4z M387.9,188.75h3l-1.5,2.4z M389.9,188.53h3l-1.5,2.4z M391.9,188.18h3l-1.5,2.4z M393.9,187.95h3l-1.5,2.4z M396.47,188.92h3l-1.5,2.4z M399.03,189.1h3l-1.5,2.4z M401.6,190.25h3l-1.5,2.4z M403.77,190.64h3l-1.5,2.4z M405.94,190.22h3l-1.5,2.4z M408.11,188.72h3l-1.5,2.4z M410.29,188.6h3l-1.5,2.4z M412.46,189.2h3l-1.5,2.4z M414.63,187.92h3l-1.5,2.4z M416.8,187.95h3l-1.5,2.4z" fill="#5457a8"/>
<polyline points="259.8,264.9 262.1,264.71 264.4,263.1 265.52,261.4 266.65,259.96 267.77,258.25 268.9,256.2 270.45,257.64 272,260 272,262.31 272,265.3 274.53,264.17 277.07,264.13 279.6,263.1 281.1,261.38 282.6,258.44 284.1,257 286.4,241 288.7,242.12 291,241.87 293.3,242.5 295.57,241.89 297.85,242 300.12,242.67 302.4,241.7 304.43,240.8 306.47,239.9 308.5,238.7 310.62,240.29 312.74,241.28 314.86,241.88 316.98,242.25 319.1,243.3 321.54,243.12 323.98,243.3 326.42,242.8 328.86,242.15 331.3,241.7 333.25,240.71 335.2,239.99 337.15,239.83 339.1,238.7 341.47,239.13 343.83,238.59 346.2,240.04 348.57,240.68 350.93,240.84 353.3,241.34 355.67,241.69 358.03,241.42 360.4,241.7 362.6,241.57 364.8,240.33 367,239.29 369.2,239.11 371.4,238.45 373.6,238.86 375.8,237.88 378,237.06 380.2,236.4 381.75,238.5 383.3,240.2 385.72,239.9 388.14,240.85 390.56,241.42 392.98,241.23 395.4,241.7 397.7,242.44 400,244 401.9,245.2 403.8,246.42 405.7,248.35 407.6,249.4 409.5,246.88 411.4,245.5" fill="none" stroke="#62bf8c" stroke-width="1.1" stroke-linejoin="round" />
<path d="M258.3,265.95h3l-1.5,-2.4z M260.6,265.76h3l-1.5,-2.4z M262.9,264.15h3l-1.5,-2.4z M264.02,262.45h3l-1.5,-2.4z M265.15,261.01h3l-1.5,-2.4z M266.27,259.3h3l-1.5,-2.4z M267.4,257.25h3l-1.5,-2.4z M268.95,258.69h3l-1.5,-2.4z M270.5,261.05h3l-1.5,-2.4z M270.5,263.36h3l-1.5,-2.4z M270.5,266.35h3l-1.5,-2.4z M273.03,265.22h3l-1.5,-2.4z M275.57,265.18h3l-1.5,-2.4z M278.1,264.15h3l-1.5,-2.4z M279.6,262.43h3l-1.5,-2.4z M281.1,259.49h3l-1.5,-2.4z M282.6,258.05h3l-1.5,-2.4z M284.9,242.05h3l-1.5,-2.4z M287.2,243.17h3l-1.5,-2.4z M289.5,242.92h3l-1.5,-2.4z M291.8,243.55h3l-1.5,-2.4z M294.07,242.94h3l-1.5,-2.4z M296.35,243.05h3l-1.5,-2.4z M298.62,243.72h3l-1.5,-2.4z M300.9,242.75h3l-1.5,-2.4z M302.93,241.85h3l-1.5,-2.4z M304.97,240.95h3l-1.5,-2.4z M307,239.75h3l-1.5,-2.4z M309.12,241.34h3l-1.5,-2.4z M311.24,242.33h3l-1.5,-2.4z M313.36,242.93h3l-1.5,-2.4z M315.48,243.3h3l-1.5,-2.4z M317.6,244.35h3l-1.5,-2.4z M320.04,244.17h3l-1.5,-2.4z M322.48,244.35h3l-1.5,-2.4z M324.92,243.85h3l-1.5,-2.4z M327.36,243.2h3l-1.5,-2.4z M329.8,242.75h3l-1.5,-2.4z M331.75,241.76h3l-1.5,-2.4z M333.7,241.04h3l-1.5,-2.4z M335.65,240.88h3l-1.5,-2.4z M337.6,239.75h3l-1.5,-2.4z M339.97,240.18h3l-1.5,-2.4z M342.33,239.64h3l-1.5,-2.4z M344.7,241.09h3l-1.5,-2.4z M347.07,241.73h3l-1.5,-2.4z M349.43,241.89h3l-1.5,-2.4z M351.8,242.39h3l-1.5,-2.4z M354.17,242.74h3l-1.5,-2.4z M356.53,242.47h3l-1.5,-2.4z M358.9,242.75h3l-1.5,-2.4z M361.1,242.62h3l-1.5,-2.4z M363.3,241.38h3l-1.5,-2.4z M365.5,240.34h3l-1.5,-2.4z M367.7,240.16h3l-1.5,-2.4z M369.9,239.5h3l-1.5,-2.4z M372.1,239.91h3l-1.5,-2.4z M374.3,238.93h3l-1.5,-2.4z M376.5,238.11h3l-1.5,-2.4z M378.7,237.45h3l-1.5,-2.4z M380.25,239.55h3l-1.5,-2.4z M381.8,241.25h3l-1.5,-2.4z M384.22,240.95h3l-1.5,-2.4z M386.64,241.9h3l-1.5,-2.4z M389.06,242.47h3l-1.5,-2.4z M391.48,242.28h3l-1.5,-2.4z M393.9,242.75h3l-1.5,-2.4z M396.2,243.49h3l-1.5,-2.4z M398.5,245.05h3l-1.5,-2.4z M400.4,246.25h3l-1.5,-2.4z M402.3,247.47h3l-1.5,-2.4z M404.2,249.4h3l-1.5,-2.4z M406.1,250.45h3l-1.5,-2.4z M408,247.93h3l-1.5,-2.4z M409.9,246.55h3l-1.5,-2.4z" fill="#62bf8c"/>
<polyline points="268.9,256.2 270.93,257.08 272.97,258.97 275,260.8 277.14,261.25 279.28,261.5 281.42,261.48 283.56,262.06 285.7,261.5 287.87,261.18 290.04,260.55 292.21,261.18 294.39,261.01 296.56,260.49 298.73,261.17 300.9,260.8 302.6,259.4 304.3,258.08 306,257.07 307.7,256.2 309.05,258.44 310.4,258.46 311.75,260.55 313.1,262.3 315.22,261.65 317.34,261.22 319.46,261.29 321.58,260.65 323.7,260.8 325.84,261.77 327.98,261.4 330.12,262.02 332.26,261.46 334.4,262.3 335.97,264.01 337.53,266 339.1,267.6 341.38,267.9 343.67,266.7 345.95,266.79 348.23,267.17 350.52,266.88 352.8,266.1 354.76,264.25 356.71,263.33 358.67,262.28 360.63,260.28 362.59,259.31 364.54,257.88 366.5,256.2 368.53,258.22 370.57,258.82 372.6,260.29 374.63,261.03 376.67,262.9 378.7,263.8 381,248.6 382.7,246.79 384.4,245.55 386.1,243.8 387.8,242.5 390.33,241.92 392.87,241.38 395.4,241.7 396.95,239.76 398.5,238.7 400.77,238.2 403.05,237.15 405.33,236.25 407.6,236.4 408.87,238.42 410.13,239.12 411.4,241" fill="none" stroke="#62bf8c" stroke-width="1.1" stroke-linejoin="round" />
<path d="M267.4,257.25h3l-1.5,-2.4z M269.43,258.13h3l-1.5,-2.4z M271.47,260.02h3l-1.5,-2.4z M273.5,261.85h3l-1.5,-2.4z M275.64,262.3h3l-1.5,-2.4z M277.78,262.55h3l-1.5,-2.4z M279.92,262.53h3l-1.5,-2.4z M282.06,263.11h3l-1.5,-2.4z M284.2,262.55h3l-1.5,-2.4z M286.37,262.23h3l-1.5,-2.4z M288.54,261.6h3l-1.5,-2.4z M290.71,262.23h3l-1.5,-2.4z M292.89,262.06h3l-1.5,-2.4z M295.06,261.54h3l-1.5,-2.4z M297.23,262.22h3l-1.5,-2.4z M299.4,261.85h3l-1.5,-2.4z M301.1,260.45h3l-1.5,-2.4z M302.8,259.13h3l-1.5,-2.4z M304.5,258.12h3l-1.5,-2.4z M306.2,257.25h3l-1.5,-2.4z M307.55,259.49h3l-1.5,-2.4z M308.9,259.51h3l-1.5,-2.4z M310.25,261.6h3l-1.5,-2.4z M311.6,263.35h3l-1.5,-2.4z M313.72,262.7h3l-1.5,-2.4z M315.84,262.27h3l-1.5,-2.4z M317.96,262.34h3l-1.5,-2.4z M320.08,261.7h3l-1.5,-2.4z M322.2,261.85h3l-1.5,-2.4z M324.34,262.82h3l-1.5,-2.4z M326.48,262.45h3l-1.5,-2.4z M328.62,263.07h3l-1.5,-2.4z M330.76,262.51h3l-1.5,-2.4z M332.9,263.35h3l-1.5,-2.4z M334.47,265.06h3l-1.5,-2.4z M336.03,267.05h3l-1.5,-2.4z M337.6,268.65h3l-1.5,-2.4z M339.88,268.95h3l-1.5,-2.4z M342.17,267.75h3l-1.5,-2.4z M344.45,267.84h3l-1.5,-2.4z M346.73,268.22h3l-1.5,-2.4z M349.02,267.93h3l-1.5,-2.4z M351.3,267.15h3l-1.5,-2.4z M353.26,265.3h3l-1.5,-2.4z M355.21,264.38h3l-1.5,-2.4z M357.17,263.33h3l-1.5,-2.4z M359.13,261.33h3l-1.5,-2.4z M361.09,260.36h3l-1.5,-2.4z M363.04,258.93h3l-1.5,-2.4z M365,257.25h3l-1.5,-2.4z M367.03,259.27h3l-1.5,-2.4z M369.07,259.87h3l-1.5,-2.4z M371.1,261.34h3l-1.5,-2.4z M373.13,262.08h3l-1.5,-2.4z M375.17,263.95h3l-1.5,-2.4z M377.2,264.85h3l-1.5,-2.4z M379.5,249.65h3l-1.5,-2.4z M381.2,247.84h3l-1.5,-2.4z M382.9,246.6h3l-1.5,-2.4z M384.6,244.85h3l-1.5,-2.4z M386.3,243.55h3l-1.5,-2.4z M388.83,242.97h3l-1.5,-2.4z M391.37,242.43h3l-1.5,-2.4z M393.9,242.75h3l-1.5,-2.4z M395.45,240.81h3l-1.5,-2.4z M397,239.75h3l-1.5,-2.4z M399.27,239.25h3l-1.5,-2.4z M401.55,238.2h3l-1.5,-2.4z M403.83,237.3h3l-1.5,-2.4z M406.1,237.45h3l-1.5,-2.4z M407.37,239.47h3l-1.5,-2.4z M408.63,240.17h3l-1.5,-2.4z M409.9,242.05h3l-1.5,-2.4z" fill="#62bf8c"/>
<polyline points="263.6,310.4 265.37,311.15 267.13,311.04 268.9,311.2 270.8,311.83 272.7,312.7 275.8,303.6 277.3,304.76 278.8,305.1 281.1,312.7 282.63,312.37 284.17,310.97 285.7,310.4 287.2,308.49 288.7,307.56 290.2,305.9 292.5,299.8 294.8,290.7 296.7,291.08 298.6,290.7 299.87,289.52 301.13,288.41 302.4,286.8 304.7,286.2 307,285.8 308.5,287.03 310,287.74 311.5,289.1 313.05,289 314.6,289.1 316.1,290.52 317.6,292.2 319.5,291.87 321.4,291.69 323.3,291.94 325.2,291.4 326.73,291.99 328.25,292.98 329.77,293.98 331.3,295.2 333.25,295.92 335.2,295.63 337.15,295.31 339.1,296 340.62,295.04 342.15,293.76 343.68,292.38 345.2,290.7 346.73,289.57 348.25,289.01 349.77,287.56 351.3,286.8 353.2,286.8 355.1,288 357,288.37 358.9,288.4 360.05,289.41 361.2,291.47 362.35,291.85 363.5,293.7 364.45,295.01 365.4,296.21 366.35,297.91 367.3,299.8 368.82,298.1 370.35,297.39 371.88,295.6 373.4,294.5 374.55,292.16 375.7,290.5 377.85,289.65 380,289.5 382,288.69 384,288.3 385.67,289.6 387.33,290.22 389,291 391,290.31 393,290.5 394.5,290.35 396,289.8 397.5,290.94 399,292 401,292.94 403,294 404,292.78 405,291.5 406.25,293.17 407.5,294.5 406.75,296.58 406,298 404.5,298.51 403,299 401.5,297.65 400,296 399,294.71 398,293.5 396,293.5 394,293.2 392,292.58 390,292.2 388,291.81 386,291.6 384,291.48 382,291.57 380,291.2 378,290.76 376,290.8" fill="none" stroke="#f7a340" stroke-width="1.2" stroke-linejoin="round" />
<g fill="#f7a340"><circle cx="263.6" cy="310.4" r="1.35"/><circle cx="265.37" cy="311.15" r="1.35"/><circle cx="267.13" cy="311.04" r="1.35"/><circle cx="268.9" cy="311.2" r="1.35"/><circle cx="270.8" cy="311.83" r="1.35"/><circle cx="272.7" cy="312.7" r="1.35"/><circle cx="275.8" cy="303.6" r="1.35"/><circle cx="277.3" cy="304.76" r="1.35"/><circle cx="278.8" cy="305.1" r="1.35"/><circle cx="281.1" cy="312.7" r="1.35"/><circle cx="282.63" cy="312.37" r="1.35"/><circle cx="284.17" cy="310.97" r="1.35"/><circle cx="285.7" cy="310.4" r="1.35"/><circle cx="287.2" cy="308.49" r="1.35"/><circle cx="288.7" cy="307.56" r="1.35"/><circle cx="290.2" cy="305.9" r="1.35"/><circle cx="292.5" cy="299.8" r="1.35"/><circle cx="294.8" cy="290.7" r="1.35"/><circle cx="296.7" cy="291.08" r="1.35"/><circle cx="298.6" cy="290.7" r="1.35"/><circle cx="299.87" cy="289.52" r="1.35"/><circle cx="301.13" cy="288.41" r="1.35"/><circle cx="302.4" cy="286.8" r="1.35"/><circle cx="304.7" cy="286.2" r="1.35"/><circle cx="307" cy="285.8" r="1.35"/><circle cx="308.5" cy="287.03" r="1.35"/><circle cx="310" cy="287.74" r="1.35"/><circle cx="311.5" cy="289.1" r="1.35"/><circle cx="313.05" cy="289" r="1.35"/><circle cx="314.6" cy="289.1" r="1.35"/><circle cx="316.1" cy="290.52" r="1.35"/><circle cx="317.6" cy="292.2" r="1.35"/><circle cx="319.5" cy="291.87" r="1.35"/><circle cx="321.4" cy="291.69" r="1.35"/><circle cx="323.3" cy="291.94" r="1.35"/><circle cx="325.2" cy="291.4" r="1.35"/><circle cx="326.73" cy="291.99" r="1.35"/><circle cx="328.25" cy="292.98" r="1.35"/><circle cx="329.77" cy="293.98" r="1.35"/><circle cx="331.3" cy="295.2" r="1.35"/><circle cx="333.25" cy="295.92" r="1.35"/><circle cx="335.2" cy="295.63" r="1.35"/><circle cx="337.15" cy="295.31" r="1.35"/><circle cx="339.1" cy="296" r="1.35"/><circle cx="340.62" cy="295.04" r="1.35"/><circle cx="342.15" cy="293.76" r="1.35"/><circle cx="343.68" cy="292.38" r="1.35"/><circle cx="345.2" cy="290.7" r="1.35"/><circle cx="346.73" cy="289.57" r="1.35"/><circle cx="348.25" cy="289.01" r="1.35"/><circle cx="349.77" cy="287.56" r="1.35"/><circle cx="351.3" cy="286.8" r="1.35"/><circle cx="353.2" cy="286.8" r="1.35"/><circle cx="355.1" cy="288" r="1.35"/><circle cx="357" cy="288.37" r="1.35"/><circle cx="358.9" cy="288.4" r="1.35"/><circle cx="360.05" cy="289.41" r="1.35"/><circle cx="361.2" cy="291.47" r="1.35"/><circle cx="362.35" cy="291.85" r="1.35"/><circle cx="363.5" cy="293.7" r="1.35"/><circle cx="364.45" cy="295.01" r="1.35"/><circle cx="365.4" cy="296.21" r="1.35"/><circle cx="366.35" cy="297.91" r="1.35"/><circle cx="367.3" cy="299.8" r="1.35"/><circle cx="368.82" cy="298.1" r="1.35"/><circle cx="370.35" cy="297.39" r="1.35"/><circle cx="371.88" cy="295.6" r="1.35"/><circle cx="373.4" cy="294.5" r="1.35"/><circle cx="374.55" cy="292.16" r="1.35"/><circle cx="375.7" cy="290.5" r="1.35"/><circle cx="377.85" cy="289.65" r="1.35"/><circle cx="380" cy="289.5" r="1.35"/><circle cx="382" cy="288.69" r="1.35"/><circle cx="384" cy="288.3" r="1.35"/><circle cx="385.67" cy="289.6" r="1.35"/><circle cx="387.33" cy="290.22" r="1.35"/><circle cx="389" cy="291" r="1.35"/><circle cx="391" cy="290.31" r="1.35"/><circle cx="393" cy="290.5" r="1.35"/><circle cx="394.5" cy="290.35" r="1.35"/><circle cx="396" cy="289.8" r="1.35"/><circle cx="397.5" cy="290.94" r="1.35"/><circle cx="399" cy="292" r="1.35"/><circle cx="401" cy="292.94" r="1.35"/><circle cx="403" cy="294" r="1.35"/><circle cx="404" cy="292.78" r="1.35"/><circle cx="405" cy="291.5" r="1.35"/><circle cx="406.25" cy="293.17" r="1.35"/><circle cx="407.5" cy="294.5" r="1.35"/><circle cx="406.75" cy="296.58" r="1.35"/><circle cx="406" cy="298" r="1.35"/><circle cx="404.5" cy="298.51" r="1.35"/><circle cx="403" cy="299" r="1.35"/><circle cx="401.5" cy="297.65" r="1.35"/><circle cx="400" cy="296" r="1.35"/><circle cx="399" cy="294.71" r="1.35"/><circle cx="398" cy="293.5" r="1.35"/><circle cx="396" cy="293.5" r="1.35"/><circle cx="394" cy="293.2" r="1.35"/><circle cx="392" cy="292.58" r="1.35"/><circle cx="390" cy="292.2" r="1.35"/><circle cx="388" cy="291.81" r="1.35"/><circle cx="386" cy="291.6" r="1.35"/><circle cx="384" cy="291.48" r="1.35"/><circle cx="382" cy="291.57" r="1.35"/><circle cx="380" cy="291.2" r="1.35"/><circle cx="378" cy="290.76" r="1.35"/><circle cx="376" cy="290.8" r="1.35"/></g>
<polyline points="285.7,310.4 287.95,311.67 290.2,312 291.55,313.12 292.9,314.64 294.25,315.58 295.6,316.5 297.37,316.1 299.13,314.9 300.9,313.8 302.72,314.26 304.54,314.78 306.36,315.54 308.18,316.24 310,316.5 311.9,315.92 313.8,314.19 315.7,313.17 317.6,312.7 319.13,313.54 320.67,314.78 322.2,316.5 324.02,315.41 325.84,314.76 327.66,314.42 329.48,313.67 331.3,313.5 333.25,313.5 335.2,313.23 337.15,313.41 339.1,312.7 341.13,313.97 343.17,314.5 345.2,315 346.23,313.73 347.27,310.95 348.3,309.7 349.8,309 351.3,308.9 352.8,315.8 354.33,315 355.87,313.24 357.4,312 358.15,309.78 358.9,308.2 361.04,308.32 363.18,307.8 365.32,307.77 367.46,307.36 369.6,307.4 371.5,305.97 373.4,305.1 374.9,290.7" fill="none" stroke="#f7a340" stroke-width="1.2" stroke-linejoin="round" />
<g fill="#f7a340"><circle cx="285.7" cy="310.4" r="1.35"/><circle cx="287.95" cy="311.67" r="1.35"/><circle cx="290.2" cy="312" r="1.35"/><circle cx="291.55" cy="313.12" r="1.35"/><circle cx="292.9" cy="314.64" r="1.35"/><circle cx="294.25" cy="315.58" r="1.35"/><circle cx="295.6" cy="316.5" r="1.35"/><circle cx="297.37" cy="316.1" r="1.35"/><circle cx="299.13" cy="314.9" r="1.35"/><circle cx="300.9" cy="313.8" r="1.35"/><circle cx="302.72" cy="314.26" r="1.35"/><circle cx="304.54" cy="314.78" r="1.35"/><circle cx="306.36" cy="315.54" r="1.35"/><circle cx="308.18" cy="316.24" r="1.35"/><circle cx="310" cy="316.5" r="1.35"/><circle cx="311.9" cy="315.92" r="1.35"/><circle cx="313.8" cy="314.19" r="1.35"/><circle cx="315.7" cy="313.17" r="1.35"/><circle cx="317.6" cy="312.7" r="1.35"/><circle cx="319.13" cy="313.54" r="1.35"/><circle cx="320.67" cy="314.78" r="1.35"/><circle cx="322.2" cy="316.5" r="1.35"/><circle cx="324.02" cy="315.41" r="1.35"/><circle cx="325.84" cy="314.76" r="1.35"/><circle cx="327.66" cy="314.42" r="1.35"/><circle cx="329.48" cy="313.67" r="1.35"/><circle cx="331.3" cy="313.5" r="1.35"/><circle cx="333.25" cy="313.5" r="1.35"/><circle cx="335.2" cy="313.23" r="1.35"/><circle cx="337.15" cy="313.41" r="1.35"/><circle cx="339.1" cy="312.7" r="1.35"/><circle cx="341.13" cy="313.97" r="1.35"/><circle cx="343.17" cy="314.5" r="1.35"/><circle cx="345.2" cy="315" r="1.35"/><circle cx="346.23" cy="313.73" r="1.35"/><circle cx="347.27" cy="310.95" r="1.35"/><circle cx="348.3" cy="309.7" r="1.35"/><circle cx="349.8" cy="309" r="1.35"/><circle cx="351.3" cy="308.9" r="1.35"/><circle cx="352.8" cy="315.8" r="1.35"/><circle cx="354.33" cy="315" r="1.35"/><circle cx="355.87" cy="313.24" r="1.35"/><circle cx="357.4" cy="312" r="1.35"/><circle cx="358.15" cy="309.78" r="1.35"/><circle cx="358.9" cy="308.2" r="1.35"/><circle cx="361.04" cy="308.32" r="1.35"/><circle cx="363.18" cy="307.8" r="1.35"/><circle cx="365.32" cy="307.77" r="1.35"/><circle cx="367.46" cy="307.36" r="1.35"/><circle cx="369.6" cy="307.4" r="1.35"/><circle cx="371.5" cy="305.97" r="1.35"/><circle cx="373.4" cy="305.1" r="1.35"/><circle cx="374.9" cy="290.7" r="1.35"/></g>
<polyline points="272,345.1 273.9,344.07 275.8,344.07 277.7,343.87 279.6,342.8 281.42,342.88 283.24,342.17 285.06,341.9 286.88,340.81 288.7,340.5 291,340.28 293.3,340.5 295.2,340.22 297.1,339.11 299,338.44 300.9,337.5 301.9,334.93 302.9,333.13 303.9,331.4 305.8,331.76 307.7,332.4 309.6,332.88 311.5,332.9 313.4,333.58 315.3,333.52 317.2,333.97 319.1,334.5 321.13,334.9 323.17,335.04 325.2,334.5 326.35,333.13 327.5,331.46 328.65,330.59 329.8,329.1 331.9,329.14 334,328.95 336.1,329.1 337.62,329.88 339.14,331.13 340.66,332.46 342.18,333.01 343.7,334.5 345.73,333.78 347.77,333.46 349.8,332.2 351.07,330.67 352.33,328.33 353.6,326.8 355.13,327.74 356.67,328.43 358.2,329.9 360.47,330.66 362.73,331.05 365,331.4 367,332.09 369,333.5 371,332.05 373,330.5 374.67,331.61 376.33,332.58 378,333.5 379.67,334.7 381.33,335.96 383,337.5 385,336.59 387,336 388.25,335.05 389.5,333 389.75,330.81 390,329 392,329.5 394,330 395.25,331.71 396.5,333.14 397.75,335.14 399,337 397.5,337.43 396,338.5 394.33,338.14 392.67,338.02 391,338 390.5,335.83 390,334 392,334.23 394,333.5 395.67,331.94 397.33,330.65 399,329.5" fill="none" stroke="#f06450" stroke-width="1.2" stroke-linejoin="round" />
<g fill="#f06450"><circle cx="272" cy="345.1" r="1.35"/><circle cx="273.9" cy="344.07" r="1.35"/><circle cx="275.8" cy="344.07" r="1.35"/><circle cx="277.7" cy="343.87" r="1.35"/><circle cx="279.6" cy="342.8" r="1.35"/><circle cx="281.42" cy="342.88" r="1.35"/><circle cx="283.24" cy="342.17" r="1.35"/><circle cx="285.06" cy="341.9" r="1.35"/><circle cx="286.88" cy="340.81" r="1.35"/><circle cx="288.7" cy="340.5" r="1.35"/><circle cx="291" cy="340.28" r="1.35"/><circle cx="293.3" cy="340.5" r="1.35"/><circle cx="295.2" cy="340.22" r="1.35"/><circle cx="297.1" cy="339.11" r="1.35"/><circle cx="299" cy="338.44" r="1.35"/><circle cx="300.9" cy="337.5" r="1.35"/><circle cx="301.9" cy="334.93" r="1.35"/><circle cx="302.9" cy="333.13" r="1.35"/><circle cx="303.9" cy="331.4" r="1.35"/><circle cx="305.8" cy="331.76" r="1.35"/><circle cx="307.7" cy="332.4" r="1.35"/><circle cx="309.6" cy="332.88" r="1.35"/><circle cx="311.5" cy="332.9" r="1.35"/><circle cx="313.4" cy="333.58" r="1.35"/><circle cx="315.3" cy="333.52" r="1.35"/><circle cx="317.2" cy="333.97" r="1.35"/><circle cx="319.1" cy="334.5" r="1.35"/><circle cx="321.13" cy="334.9" r="1.35"/><circle cx="323.17" cy="335.04" r="1.35"/><circle cx="325.2" cy="334.5" r="1.35"/><circle cx="326.35" cy="333.13" r="1.35"/><circle cx="327.5" cy="331.46" r="1.35"/><circle cx="328.65" cy="330.59" r="1.35"/><circle cx="329.8" cy="329.1" r="1.35"/><circle cx="331.9" cy="329.14" r="1.35"/><circle cx="334" cy="328.95" r="1.35"/><circle cx="336.1" cy="329.1" r="1.35"/><circle cx="337.62" cy="329.88" r="1.35"/><circle cx="339.14" cy="331.13" r="1.35"/><circle cx="340.66" cy="332.46" r="1.35"/><circle cx="342.18" cy="333.01" r="1.35"/><circle cx="343.7" cy="334.5" r="1.35"/><circle cx="345.73" cy="333.78" r="1.35"/><circle cx="347.77" cy="333.46" r="1.35"/><circle cx="349.8" cy="332.2" r="1.35"/><circle cx="351.07" cy="330.67" r="1.35"/><circle cx="352.33" cy="328.33" r="1.35"/><circle cx="353.6" cy="326.8" r="1.35"/><circle cx="355.13" cy="327.74" r="1.35"/><circle cx="356.67" cy="328.43" r="1.35"/><circle cx="358.2" cy="329.9" r="1.35"/><circle cx="360.47" cy="330.66" r="1.35"/><circle cx="362.73" cy="331.05" r="1.35"/><circle cx="365" cy="331.4" r="1.35"/><circle cx="367" cy="332.09" r="1.35"/><circle cx="369" cy="333.5" r="1.35"/><circle cx="371" cy="332.05" r="1.35"/><circle cx="373" cy="330.5" r="1.35"/><circle cx="374.67" cy="331.61" r="1.35"/><circle cx="376.33" cy="332.58" r="1.35"/><circle cx="378" cy="333.5" r="1.35"/><circle cx="379.67" cy="334.7" r="1.35"/><circle cx="381.33" cy="335.96" r="1.35"/><circle cx="383" cy="337.5" r="1.35"/><circle cx="385" cy="336.59" r="1.35"/><circle cx="387" cy="336" r="1.35"/><circle cx="388.25" cy="335.05" r="1.35"/><circle cx="389.5" cy="333" r="1.35"/><circle cx="389.75" cy="330.81" r="1.35"/><circle cx="390" cy="329" r="1.35"/><circle cx="392" cy="329.5" r="1.35"/><circle cx="394" cy="330" r="1.35"/><circle cx="395.25" cy="331.71" r="1.35"/><circle cx="396.5" cy="333.14" r="1.35"/><circle cx="397.75" cy="335.14" r="1.35"/><circle cx="399" cy="337" r="1.35"/><circle cx="397.5" cy="337.43" r="1.35"/><circle cx="396" cy="338.5" r="1.35"/><circle cx="394.33" cy="338.14" r="1.35"/><circle cx="392.67" cy="338.02" r="1.35"/><circle cx="391" cy="338" r="1.35"/><circle cx="390.5" cy="335.83" r="1.35"/><circle cx="390" cy="334" r="1.35"/><circle cx="392" cy="334.23" r="1.35"/><circle cx="394" cy="333.5" r="1.35"/><circle cx="395.67" cy="331.94" r="1.35"/><circle cx="397.33" cy="330.65" r="1.35"/><circle cx="399" cy="329.5" r="1.35"/></g>
<polyline points="272,345.1 273.5,346.31 275,347.05 276.5,348.2 278.34,348.82 280.18,349.56 282.02,349.53 283.86,350.79 285.7,351.2 287.2,349.76 288.7,348.93 290.2,348.2 290.2,346.74 290.2,345.14 290.2,342.8 292.04,343.61 293.88,343.68 295.72,344.59 297.56,345.04 299.4,345.9 301.3,347.23 303.2,347.51 305.1,348.42 307,349.7 309.02,350.6 311.03,351.35 313.05,352.05 315.07,352.68 317.08,353.95 319.1,354.2 320.62,352.83 322.15,352.03 323.68,350.11 325.2,348.9 326.73,347.36 328.27,345.75 329.8,344.4 331.33,345.64 332.87,346.68 334.4,347.4 336.56,347.41 338.72,348.03 340.88,348.55 343.04,348.6 345.2,348.9 347.06,348.21 348.91,347.28 350.77,346.52 352.63,345.26 354.49,344.33 356.34,343.15 358.2,342.8 360.1,344.38 362,345.42 363.9,346.13 365.8,347.4 367.8,336 369.9,335.76 372,334.5 374,334.94 376,334.12 378,334.5 380,335.37 382,335.41 384,336 385.67,335.3 387.33,334.74 389,334.5 391,333.16 393,332 395,330.51 397,329.51 399,329" fill="none" stroke="#f06450" stroke-width="1.2" stroke-linejoin="round" />
<g fill="#f06450"><circle cx="272" cy="345.1" r="1.35"/><circle cx="273.5" cy="346.31" r="1.35"/><circle cx="275" cy="347.05" r="1.35"/><circle cx="276.5" cy="348.2" r="1.35"/><circle cx="278.34" cy="348.82" r="1.35"/><circle cx="280.18" cy="349.56" r="1.35"/><circle cx="282.02" cy="349.53" r="1.35"/><circle cx="283.86" cy="350.79" r="1.35"/><circle cx="285.7" cy="351.2" r="1.35"/><circle cx="287.2" cy="349.76" r="1.35"/><circle cx="288.7" cy="348.93" r="1.35"/><circle cx="290.2" cy="348.2" r="1.35"/><circle cx="290.2" cy="346.74" r="1.35"/><circle cx="290.2" cy="345.14" r="1.35"/><circle cx="290.2" cy="342.8" r="1.35"/><circle cx="292.04" cy="343.61" r="1.35"/><circle cx="293.88" cy="343.68" r="1.35"/><circle cx="295.72" cy="344.59" r="1.35"/><circle cx="297.56" cy="345.04" r="1.35"/><circle cx="299.4" cy="345.9" r="1.35"/><circle cx="301.3" cy="347.23" r="1.35"/><circle cx="303.2" cy="347.51" r="1.35"/><circle cx="305.1" cy="348.42" r="1.35"/><circle cx="307" cy="349.7" r="1.35"/><circle cx="309.02" cy="350.6" r="1.35"/><circle cx="311.03" cy="351.35" r="1.35"/><circle cx="313.05" cy="352.05" r="1.35"/><circle cx="315.07" cy="352.68" r="1.35"/><circle cx="317.08" cy="353.95" r="1.35"/><circle cx="319.1" cy="354.2" r="1.35"/><circle cx="320.62" cy="352.83" r="1.35"/><circle cx="322.15" cy="352.03" r="1.35"/><circle cx="323.68" cy="350.11" r="1.35"/><circle cx="325.2" cy="348.9" r="1.35"/><circle cx="326.73" cy="347.36" r="1.35"/><circle cx="328.27" cy="345.75" r="1.35"/><circle cx="329.8" cy="344.4" r="1.35"/><circle cx="331.33" cy="345.64" r="1.35"/><circle cx="332.87" cy="346.68" r="1.35"/><circle cx="334.4" cy="347.4" r="1.35"/><circle cx="336.56" cy="347.41" r="1.35"/><circle cx="338.72" cy="348.03" r="1.35"/><circle cx="340.88" cy="348.55" r="1.35"/><circle cx="343.04" cy="348.6" r="1.35"/><circle cx="345.2" cy="348.9" r="1.35"/><circle cx="347.06" cy="348.21" r="1.35"/><circle cx="348.91" cy="347.28" r="1.35"/><circle cx="350.77" cy="346.52" r="1.35"/><circle cx="352.63" cy="345.26" r="1.35"/><circle cx="354.49" cy="344.33" r="1.35"/><circle cx="356.34" cy="343.15" r="1.35"/><circle cx="358.2" cy="342.8" r="1.35"/><circle cx="360.1" cy="344.38" r="1.35"/><circle cx="362" cy="345.42" r="1.35"/><circle cx="363.9" cy="346.13" r="1.35"/><circle cx="365.8" cy="347.4" r="1.35"/><circle cx="367.8" cy="336" r="1.35"/><circle cx="369.9" cy="335.76" r="1.35"/><circle cx="372" cy="334.5" r="1.35"/><circle cx="374" cy="334.94" r="1.35"/><circle cx="376" cy="334.12" r="1.35"/><circle cx="378" cy="334.5" r="1.35"/><circle cx="380" cy="335.37" r="1.35"/><circle cx="382" cy="335.41" r="1.35"/><circle cx="384" cy="336" r="1.35"/><circle cx="385.67" cy="335.3" r="1.35"/><circle cx="387.33" cy="334.74" r="1.35"/><circle cx="389" cy="334.5" r="1.35"/><circle cx="391" cy="333.16" r="1.35"/><circle cx="393" cy="332" r="1.35"/><circle cx="395" cy="330.51" r="1.35"/><circle cx="397" cy="329.51" r="1.35"/><circle cx="399" cy="329" r="1.35"/></g>
<rect x="242" y="152.5" width="187" height="214.5" fill="none" stroke="#1f1f1f" stroke-width="1.0"/>
<line x1="252.5" y1="367" x2="252.5" y2="364" stroke="#1f1f1f" stroke-width="1" />
<text x="253.5" y="378.2" font-size="9.5" text-anchor="middle" fill="#222" >-20</text>
<line x1="293.3" y1="367" x2="293.3" y2="364" stroke="#1f1f1f" stroke-width="1" />
<text x="291.4" y="378.2" font-size="9.5" text-anchor="middle" fill="#222" >-10</text>
<line x1="335.3" y1="367" x2="335.3" y2="364" stroke="#1f1f1f" stroke-width="1" />
<text x="335.2" y="378.2" font-size="9.5" text-anchor="middle" fill="#222" >0</text>
<line x1="376.5" y1="367" x2="376.5" y2="364" stroke="#1f1f1f" stroke-width="1" />
<text x="376.8" y="378.2" font-size="9.5" text-anchor="middle" fill="#222" >10</text>
<line x1="418.3" y1="367" x2="418.3" y2="364" stroke="#1f1f1f" stroke-width="1" />
<text x="417.6" y="378.2" font-size="9.5" text-anchor="middle" fill="#222" >20</text>
<text x="324.0" y="390.6" font-size="10" fill="#222"><tspan font-style="italic">I</tspan> (mA)</text>
<text transform="translate(226.8,255.0) rotate(-90)" font-size="10.5" fill="#222"><tspan font-style="italic">R</tspan><tspan font-size="6.5" dy="2.4" font-style="italic">xy</tspan></text>
<text x="392.9" y="168.2" font-size="8.3" text-anchor="start" fill="#222" >-1 kOe</text>
<text x="395.4" y="208.3" font-size="8.3" text-anchor="start" fill="#5457a8" >150 K</text>
<text x="395.4" y="262.2" font-size="8.3" text-anchor="start" fill="#62bf8c" >160 K</text>
<text x="395.4" y="311.2" font-size="8.3" text-anchor="start" fill="#f7a340" >170 K</text>
<text x="395.4" y="348.6" font-size="8.3" text-anchor="start" fill="#f06450" >180 K</text>
<line x1="254.5" y1="163.2" x2="254.5" y2="178.1" stroke="#333" stroke-width="0.9" />
<line x1="252.4" y1="163.2" x2="256.6" y2="163.2" stroke="#333" stroke-width="0.9" />
<line x1="252.4" y1="178.1" x2="256.6" y2="178.1" stroke="#333" stroke-width="0.9" />
<text transform="translate(259.9,169.6) rotate(90)" font-size="9.5" text-anchor="middle" fill="#333">2 mΩ</text>
<text x="440.3" y="157.2" font-size="10.5" font-weight="bold" fill="#111">f</text>
<polyline points="495.4,171 506.3,168.2 524.4,170.6 542.6,168.6 560.4,171 596.8,170.2 668.4,169" fill="none" stroke="#57ade0" stroke-width="1.0" stroke-linejoin="round" />
<polyline points="495.6,190.7 502.8,192.2 510,191.5 524.4,191.1 531.6,193 538.8,191.8 546,191.1 553.2,192.2 560.4,192.2 567.6,193 574.8,193 596.4,192.6 632.4,193 668.4,191.8" fill="none" stroke="#e6468f" stroke-width="1.0" stroke-linejoin="round" />
<circle cx="495.4" cy="171" r="2.1" fill="#fff" stroke="#57ade0" stroke-width="1.0"/>
<circle cx="506.3" cy="168.2" r="2.1" fill="#fff" stroke="#57ade0" stroke-width="1.0"/>
<circle cx="524.4" cy="170.6" r="2.1" fill="#fff" stroke="#57ade0" stroke-width="1.0"/>
<circle cx="542.6" cy="168.6" r="2.1" fill="#fff" stroke="#57ade0" stroke-width="1.0"/>
<circle cx="560.4" cy="171" r="2.1" fill="#fff" stroke="#57ade0" stroke-width="1.0"/>
<circle cx="596.8" cy="170.2" r="2.1" fill="#fff" stroke="#57ade0" stroke-width="1.0"/>
<circle cx="668.4" cy="169" r="2.1" fill="#fff" stroke="#57ade0" stroke-width="1.0"/>
<circle cx="495.6" cy="190.7" r="2.1" fill="#fff" stroke="#e6468f" stroke-width="1.0"/>
<circle cx="502.8" cy="192.2" r="2.1" fill="#fff" stroke="#e6468f" stroke-width="1.0"/>
<circle cx="510" cy="191.5" r="2.1" fill="#fff" stroke="#e6468f" stroke-width="1.0"/>
<circle cx="524.4" cy="191.1" r="2.1" fill="#fff" stroke="#e6468f" stroke-width="1.0"/>
<circle cx="531.6" cy="193" r="2.1" fill="#fff" stroke="#e6468f" stroke-width="1.0"/>
<circle cx="538.8" cy="191.8" r="2.1" fill="#fff" stroke="#e6468f" stroke-width="1.0"/>
<circle cx="546" cy="191.1" r="2.1" fill="#fff" stroke="#e6468f" stroke-width="1.0"/>
<circle cx="553.2" cy="192.2" r="2.1" fill="#fff" stroke="#e6468f" stroke-width="1.0"/>
<circle cx="560.4" cy="192.2" r="2.1" fill="#fff" stroke="#e6468f" stroke-width="1.0"/>
<circle cx="567.6" cy="193" r="2.1" fill="#fff" stroke="#e6468f" stroke-width="1.0"/>
<circle cx="574.8" cy="193" r="2.1" fill="#fff" stroke="#e6468f" stroke-width="1.0"/>
<circle cx="596.4" cy="192.6" r="2.1" fill="#fff" stroke="#e6468f" stroke-width="1.0"/>
<circle cx="632.4" cy="193" r="2.1" fill="#fff" stroke="#e6468f" stroke-width="1.0"/>
<circle cx="668.4" cy="191.8" r="2.1" fill="#fff" stroke="#e6468f" stroke-width="1.0"/>
<rect x="479" y="152.5" width="205.5" height="78.4" fill="none" stroke="#1f1f1f" stroke-width="1.0"/>
<line x1="479" y1="224.7" x2="482.5" y2="224.7" stroke="#1f1f1f" stroke-width="1" />
<line x1="479" y1="188.45" x2="482.5" y2="188.45" stroke="#1f1f1f" stroke-width="1" />
<line x1="488.4" y1="230.9" x2="488.4" y2="227.9" stroke="#1f1f1f" stroke-width="1" />
<text x="488.4" y="242.8" font-size="9.5" text-anchor="middle" fill="#222" >0</text>
<line x1="560.4" y1="230.9" x2="560.4" y2="227.9" stroke="#1f1f1f" stroke-width="1" />
<text x="560.4" y="242.8" font-size="9.5" text-anchor="middle" fill="#222" >2</text>
<line x1="632.4" y1="230.9" x2="632.4" y2="227.9" stroke="#1f1f1f" stroke-width="1" />
<text x="632.4" y="242.8" font-size="9.5" text-anchor="middle" fill="#222" >4</text>
<text x="474.4" y="156.6" font-size="9.5" text-anchor="end" fill="#222" >20</text>
<text x="474.4" y="191.5" font-size="9.5" text-anchor="end" fill="#222" >10</text>
<text x="473.6" y="226.6" font-size="9.5" text-anchor="end" fill="#222" >0</text>
<text x="569.4" y="255.9" font-size="10.5" fill="#222"><tspan font-style="italic">H</tspan><tspan font-size="5.8" dy="2.8" font-style="italic">y</tspan><tspan dy="-2.8"> (kOe)</tspan></text>
<text transform="translate(453.2,202.9) rotate(-90)" font-size="10.3" fill="#222"><tspan font-style="italic">I</tspan><tspan font-size="7" dy="2.4">C</tspan><tspan dy="-2.4"> (mA)</tspan></text>
<line x1="635.3" y1="208" x2="651.1" y2="208" stroke="#e6468f" stroke-width="1" />
<circle cx="643.3" cy="208" r="2.1" fill="#fff" stroke="#e6468f" stroke-width="1"/>
<line x1="635.3" y1="220.1" x2="651.1" y2="220.1" stroke="#57ade0" stroke-width="1" />
<circle cx="643.3" cy="220.1" r="2.1" fill="#fff" stroke="#57ade0" stroke-width="1"/>
<text x="655" y="211" font-size="8.1" text-anchor="start" fill="#222" >180 K</text>
<text x="655" y="223.1" font-size="8.1" text-anchor="start" fill="#222" >150 K</text>
<text x="440.4" y="268.4" font-size="11" font-weight="bold" fill="#111">g</text>
<rect x="494" y="269.2" width="2.8" height="18.3" fill="#f7941d"/>
<rect x="517.87" y="269.2" width="2.8" height="18.3" fill="#f7941d"/>
<rect x="541.74" y="269.2" width="2.8" height="18.3" fill="#f7941d"/>
<rect x="565.61" y="269.2" width="2.8" height="18.3" fill="#f7941d"/>
<rect x="589.48" y="269.2" width="2.8" height="18.3" fill="#f7941d"/>
<rect x="613.35" y="269.2" width="2.8" height="18.3" fill="#f7941d"/>
<rect x="637.22" y="269.2" width="2.8" height="18.3" fill="#f7941d"/>
<rect x="661.09" y="269.2" width="2.8" height="18.3" fill="#f7941d"/>
<rect x="506.2" y="287.5" width="2.8" height="18.1" fill="#1cb0ec"/>
<rect x="530" y="287.5" width="2.8" height="18.1" fill="#1cb0ec"/>
<rect x="553.8" y="287.5" width="2.8" height="18.1" fill="#1cb0ec"/>
<rect x="577.6" y="287.5" width="2.8" height="18.1" fill="#1cb0ec"/>
<rect x="601.4" y="287.5" width="2.8" height="18.1" fill="#1cb0ec"/>
<rect x="625.2" y="287.5" width="2.8" height="18.1" fill="#1cb0ec"/>
<rect x="649" y="287.5" width="2.8" height="18.1" fill="#1cb0ec"/>
<line x1="479" y1="287.5" x2="684.5" y2="287.5" stroke="#1f1f1f" stroke-width="1.0" />
<rect x="479" y="266.5" width="205.5" height="42" fill="none" stroke="#1f1f1f" stroke-width="1.0"/>
<line x1="479" y1="269.5" x2="482" y2="269.5" stroke="#1f1f1f" stroke-width="1" />
<line x1="479" y1="305.3" x2="482" y2="305.3" stroke="#1f1f1f" stroke-width="1" />
<text x="473.4" y="274.4" font-size="9.5" text-anchor="end" fill="#222" >15</text>
<text x="473.4" y="306.4" font-size="9.5" text-anchor="end" fill="#222" >-15</text>
<text transform="translate(454.0,303.4) rotate(-90)" font-size="10.3" fill="#222"><tspan font-style="italic">I</tspan> (mA)</text>
<text x="658.4" y="302.7" font-size="8.3" text-anchor="start" fill="#222" >150 K</text>
<line x1="479" y1="322.4" x2="684.5" y2="322.4" stroke="#222" stroke-width="0.9" stroke-dasharray="2.2,1.6"/>
<line x1="479" y1="356.5" x2="684.5" y2="356.5" stroke="#222" stroke-width="0.9" stroke-dasharray="2.2,1.6"/>
<polyline points="498.7,349 501,349.8 502.2,352.1 504,354.4 505.8,355.6 507.5,356.5 509.3,352.1 510.6,325.4 512,318.9 513.7,318.3 515.5,319.6 517.3,321.9 519.4,327.2 521.2,322.4 522.3,351.5 524.4,352.6 526.5,353 528.3,352.1 530.1,353.8 531.5,355.6 532.9,357.4 534.2,323.1 536,321.9 537.7,320.1 539.5,318.3 541.3,316.5 543.1,315.3 545.4,317.4 546.6,355.1 547.9,348.5 550.2,346.7 551.9,350.3 554.6,351.2 556.7,347.1 558.2,321.9 560.8,321 563.5,315.3 565.3,319.2 567,321.3 568.8,321.9 570.6,345.5 572,355.1 575,354.7 577.3,351.5 578.6,354.8 580.7,356 582.1,321.9 583.9,317.4 585.7,319.2 587.4,318.9 589.2,328.1 591,322.4 592.8,326.7 594.2,358.3 595.4,352.6 597.7,353.9 599.9,352.6 601.7,357.1 603.4,357.4 604.9,357.4 606.1,324.2 607.9,323.7 609.7,319.2 611.4,322.8 613.2,320.1 615,317.8 616.8,322.4 618.5,358 620.3,356.5 621.6,361 623.9,363.6 626.5,366.3 628.3,362.2 629.7,323.7 631.5,324.5 633.6,324.9 635.4,325.4 637.2,326.3 639,324.9 640.8,324.5 642.2,353 644,353.9 645.7,357.4 647.9,354.8 649.6,353 651.8,355.6 653.2,327.2 655.9,328.1 658.5,324.5 660.3,328.1 662.1,330.8 663.9,327.2 665.6,359.7 667.4,362.2 670.1,359.2 672.7,361 675.4,362.2" fill="none" stroke="#ef6b72" stroke-width="0.6" stroke-linejoin="round" />
<circle cx="498.7" cy="349" r="1.8" fill="#fff" stroke="#ef6b72" stroke-width="1.0"/>
<circle cx="501" cy="349.8" r="1.8" fill="#fff" stroke="#ef6b72" stroke-width="1.0"/>
<circle cx="502.2" cy="352.1" r="1.8" fill="#fff" stroke="#ef6b72" stroke-width="1.0"/>
<circle cx="504" cy="354.4" r="1.8" fill="#fff" stroke="#ef6b72" stroke-width="1.0"/>
<circle cx="505.8" cy="355.6" r="1.8" fill="#fff" stroke="#ef6b72" stroke-width="1.0"/>
<circle cx="507.5" cy="356.5" r="1.8" fill="#fff" stroke="#ef6b72" stroke-width="1.0"/>
<circle cx="509.3" cy="352.1" r="1.8" fill="#fff" stroke="#ef6b72" stroke-width="1.0"/>
<circle cx="510.6" cy="325.4" r="1.8" fill="#fff" stroke="#ef6b72" stroke-width="1.0"/>
<circle cx="512" cy="318.9" r="1.8" fill="#fff" stroke="#ef6b72" stroke-width="1.0"/>
<circle cx="513.7" cy="318.3" r="1.8" fill="#fff" stroke="#ef6b72" stroke-width="1.0"/>
<circle cx="515.5" cy="319.6" r="1.8" fill="#fff" stroke="#ef6b72" stroke-width="1.0"/>
<circle cx="517.3" cy="321.9" r="1.8" fill="#fff" stroke="#ef6b72" stroke-width="1.0"/>
<circle cx="519.4" cy="327.2" r="1.8" fill="#fff" stroke="#ef6b72" stroke-width="1.0"/>
<circle cx="521.2" cy="322.4" r="1.8" fill="#fff" stroke="#ef6b72" stroke-width="1.0"/>
<circle cx="522.3" cy="351.5" r="1.8" fill="#fff" stroke="#ef6b72" stroke-width="1.0"/>
<circle cx="524.4" cy="352.6" r="1.8" fill="#fff" stroke="#ef6b72" stroke-width="1.0"/>
<circle cx="526.5" cy="353" r="1.8" fill="#fff" stroke="#ef6b72" stroke-width="1.0"/>
<circle cx="528.3" cy="352.1" r="1.8" fill="#fff" stroke="#ef6b72" stroke-width="1.0"/>
<circle cx="530.1" cy="353.8" r="1.8" fill="#fff" stroke="#ef6b72" stroke-width="1.0"/>
<circle cx="531.5" cy="355.6" r="1.8" fill="#fff" stroke="#ef6b72" stroke-width="1.0"/>
<circle cx="532.9" cy="357.4" r="1.8" fill="#fff" stroke="#ef6b72" stroke-width="1.0"/>
<circle cx="534.2" cy="323.1" r="1.8" fill="#fff" stroke="#ef6b72" stroke-width="1.0"/>
<circle cx="536" cy="321.9" r="1.8" fill="#fff" stroke="#ef6b72" stroke-width="1.0"/>
<circle cx="537.7" cy="320.1" r="1.8" fill="#fff" stroke="#ef6b72" stroke-width="1.0"/>
<circle cx="539.5" cy="318.3" r="1.8" fill="#fff" stroke="#ef6b72" stroke-width="1.0"/>
<circle cx="541.3" cy="316.5" r="1.8" fill="#fff" stroke="#ef6b72" stroke-width="1.0"/>
<circle cx="543.1" cy="315.3" r="1.8" fill="#fff" stroke="#ef6b72" stroke-width="1.0"/>
<circle cx="545.4" cy="317.4" r="1.8" fill="#fff" stroke="#ef6b72" stroke-width="1.0"/>
<circle cx="546.6" cy="355.1" r="1.8" fill="#fff" stroke="#ef6b72" stroke-width="1.0"/>
<circle cx="547.9" cy="348.5" r="1.8" fill="#fff" stroke="#ef6b72" stroke-width="1.0"/>
<circle cx="550.2" cy="346.7" r="1.8" fill="#fff" stroke="#ef6b72" stroke-width="1.0"/>
<circle cx="551.9" cy="350.3" r="1.8" fill="#fff" stroke="#ef6b72" stroke-width="1.0"/>
<circle cx="554.6" cy="351.2" r="1.8" fill="#fff" stroke="#ef6b72" stroke-width="1.0"/>
<circle cx="556.7" cy="347.1" r="1.8" fill="#fff" stroke="#ef6b72" stroke-width="1.0"/>
<circle cx="558.2" cy="321.9" r="1.8" fill="#fff" stroke="#ef6b72" stroke-width="1.0"/>
<circle cx="560.8" cy="321" r="1.8" fill="#fff" stroke="#ef6b72" stroke-width="1.0"/>
<circle cx="563.5" cy="315.3" r="1.8" fill="#fff" stroke="#ef6b72" stroke-width="1.0"/>
<circle cx="565.3" cy="319.2" r="1.8" fill="#fff" stroke="#ef6b72" stroke-width="1.0"/>
<circle cx="567" cy="321.3" r="1.8" fill="#fff" stroke="#ef6b72" stroke-width="1.0"/>
<circle cx="568.8" cy="321.9" r="1.8" fill="#fff" stroke="#ef6b72" stroke-width="1.0"/>
<circle cx="570.6" cy="345.5" r="1.8" fill="#fff" stroke="#ef6b72" stroke-width="1.0"/>
<circle cx="572" cy="355.1" r="1.8" fill="#fff" stroke="#ef6b72" stroke-width="1.0"/>
<circle cx="575" cy="354.7" r="1.8" fill="#fff" stroke="#ef6b72" stroke-width="1.0"/>
<circle cx="577.3" cy="351.5" r="1.8" fill="#fff" stroke="#ef6b72" stroke-width="1.0"/>
<circle cx="578.6" cy="354.8" r="1.8" fill="#fff" stroke="#ef6b72" stroke-width="1.0"/>
<circle cx="580.7" cy="356" r="1.8" fill="#fff" stroke="#ef6b72" stroke-width="1.0"/>
<circle cx="582.1" cy="321.9" r="1.8" fill="#fff" stroke="#ef6b72" stroke-width="1.0"/>
<circle cx="583.9" cy="317.4" r="1.8" fill="#fff" stroke="#ef6b72" stroke-width="1.0"/>
<circle cx="585.7" cy="319.2" r="1.8" fill="#fff" stroke="#ef6b72" stroke-width="1.0"/>
<circle cx="587.4" cy="318.9" r="1.8" fill="#fff" stroke="#ef6b72" stroke-width="1.0"/>
<circle cx="589.2" cy="328.1" r="1.8" fill="#fff" stroke="#ef6b72" stroke-width="1.0"/>
<circle cx="591" cy="322.4" r="1.8" fill="#fff" stroke="#ef6b72" stroke-width="1.0"/>
<circle cx="592.8" cy="326.7" r="1.8" fill="#fff" stroke="#ef6b72" stroke-width="1.0"/>
<circle cx="594.2" cy="358.3" r="1.8" fill="#fff" stroke="#ef6b72" stroke-width="1.0"/>
<circle cx="595.4" cy="352.6" r="1.8" fill="#fff" stroke="#ef6b72" stroke-width="1.0"/>
<circle cx="597.7" cy="353.9" r="1.8" fill="#fff" stroke="#ef6b72" stroke-width="1.0"/>
<circle cx="599.9" cy="352.6" r="1.8" fill="#fff" stroke="#ef6b72" stroke-width="1.0"/>
<circle cx="601.7" cy="357.1" r="1.8" fill="#fff" stroke="#ef6b72" stroke-width="1.0"/>
<circle cx="603.4" cy="357.4" r="1.8" fill="#fff" stroke="#ef6b72" stroke-width="1.0"/>
<circle cx="604.9" cy="357.4" r="1.8" fill="#fff" stroke="#ef6b72" stroke-width="1.0"/>
<circle cx="606.1" cy="324.2" r="1.8" fill="#fff" stroke="#ef6b72" stroke-width="1.0"/>
<circle cx="607.9" cy="323.7" r="1.8" fill="#fff" stroke="#ef6b72" stroke-width="1.0"/>
<circle cx="609.7" cy="319.2" r="1.8" fill="#fff" stroke="#ef6b72" stroke-width="1.0"/>
<circle cx="611.4" cy="322.8" r="1.8" fill="#fff" stroke="#ef6b72" stroke-width="1.0"/>
<circle cx="613.2" cy="320.1" r="1.8" fill="#fff" stroke="#ef6b72" stroke-width="1.0"/>
<circle cx="615" cy="317.8" r="1.8" fill="#fff" stroke="#ef6b72" stroke-width="1.0"/>
<circle cx="616.8" cy="322.4" r="1.8" fill="#fff" stroke="#ef6b72" stroke-width="1.0"/>
<circle cx="618.5" cy="358" r="1.8" fill="#fff" stroke="#ef6b72" stroke-width="1.0"/>
<circle cx="620.3" cy="356.5" r="1.8" fill="#fff" stroke="#ef6b72" stroke-width="1.0"/>
<circle cx="621.6" cy="361" r="1.8" fill="#fff" stroke="#ef6b72" stroke-width="1.0"/>
<circle cx="623.9" cy="363.6" r="1.8" fill="#fff" stroke="#ef6b72" stroke-width="1.0"/>
<circle cx="626.5" cy="366.3" r="1.8" fill="#fff" stroke="#ef6b72" stroke-width="1.0"/>
<circle cx="628.3" cy="362.2" r="1.8" fill="#fff" stroke="#ef6b72" stroke-width="1.0"/>
<circle cx="629.7" cy="323.7" r="1.8" fill="#fff" stroke="#ef6b72" stroke-width="1.0"/>
<circle cx="631.5" cy="324.5" r="1.8" fill="#fff" stroke="#ef6b72" stroke-width="1.0"/>
<circle cx="633.6" cy="324.9" r="1.8" fill="#fff" stroke="#ef6b72" stroke-width="1.0"/>
<circle cx="635.4" cy="325.4" r="1.8" fill="#fff" stroke="#ef6b72" stroke-width="1.0"/>
<circle cx="637.2" cy="326.3" r="1.8" fill="#fff" stroke="#ef6b72" stroke-width="1.0"/>
<circle cx="639" cy="324.9" r="1.8" fill="#fff" stroke="#ef6b72" stroke-width="1.0"/>
<circle cx="640.8" cy="324.5" r="1.8" fill="#fff" stroke="#ef6b72" stroke-width="1.0"/>
<circle cx="642.2" cy="353" r="1.8" fill="#fff" stroke="#ef6b72" stroke-width="1.0"/>
<circle cx="644" cy="353.9" r="1.8" fill="#fff" stroke="#ef6b72" stroke-width="1.0"/>
<circle cx="645.7" cy="357.4" r="1.8" fill="#fff" stroke="#ef6b72" stroke-width="1.0"/>
<circle cx="647.9" cy="354.8" r="1.8" fill="#fff" stroke="#ef6b72" stroke-width="1.0"/>
<circle cx="649.6" cy="353" r="1.8" fill="#fff" stroke="#ef6b72" stroke-width="1.0"/>
<circle cx="651.8" cy="355.6" r="1.8" fill="#fff" stroke="#ef6b72" stroke-width="1.0"/>
<circle cx="653.2" cy="327.2" r="1.8" fill="#fff" stroke="#ef6b72" stroke-width="1.0"/>
<circle cx="655.9" cy="328.1" r="1.8" fill="#fff" stroke="#ef6b72" stroke-width="1.0"/>
<circle cx="658.5" cy="324.5" r="1.8" fill="#fff" stroke="#ef6b72" stroke-width="1.0"/>
<circle cx="660.3" cy="328.1" r="1.8" fill="#fff" stroke="#ef6b72" stroke-width="1.0"/>
<circle cx="662.1" cy="330.8" r="1.8" fill="#fff" stroke="#ef6b72" stroke-width="1.0"/>
<circle cx="663.9" cy="327.2" r="1.8" fill="#fff" stroke="#ef6b72" stroke-width="1.0"/>
<circle cx="665.6" cy="359.7" r="1.8" fill="#fff" stroke="#ef6b72" stroke-width="1.0"/>
<circle cx="667.4" cy="362.2" r="1.8" fill="#fff" stroke="#ef6b72" stroke-width="1.0"/>
<circle cx="670.1" cy="359.2" r="1.8" fill="#fff" stroke="#ef6b72" stroke-width="1.0"/>
<circle cx="672.7" cy="361" r="1.8" fill="#fff" stroke="#ef6b72" stroke-width="1.0"/>
<circle cx="675.4" cy="362.2" r="1.8" fill="#fff" stroke="#ef6b72" stroke-width="1.0"/>
<rect x="479" y="308.5" width="205.5" height="65.2" fill="none" stroke="#1f1f1f" stroke-width="1.0"/>
<text x="454.7" y="327.1" font-size="9.3" fill="#222"><tspan font-weight="bold">n</tspan></text>
<text x="463.5" y="327.1" font-size="9.3" fill="#222">=</text>
<line x1="473.5" y1="321.4" x2="473.5" y2="329" stroke="#222" stroke-width="0.8" />
<polyline points="472.2,324 473.5,321.2 474.8,324" fill="none" stroke="#222" stroke-width="0.8" stroke-linejoin="round" />
<text x="454.7" y="359.7" font-size="9.3" fill="#222"><tspan font-weight="bold">n</tspan></text>
<text x="463.5" y="359.7" font-size="9.3" fill="#222">=</text>
<line x1="473.5" y1="354.4" x2="473.5" y2="361.8" stroke="#222" stroke-width="0.8" />
<polyline points="472.2,359.2 473.5,362 474.8,359.2" fill="none" stroke="#222" stroke-width="0.8" stroke-linejoin="round" />
<text transform="translate(448.2,348.0) rotate(-90)" font-size="10.5" fill="#222"><tspan font-style="italic">R</tspan><tspan font-size="6.5" dy="2.4" font-style="italic">xy</tspan></text>
<text x="547.8" y="391.6" font-size="10.5" text-anchor="start" fill="#222" >Time (arb. untis)</text>
</svg></body></html>
